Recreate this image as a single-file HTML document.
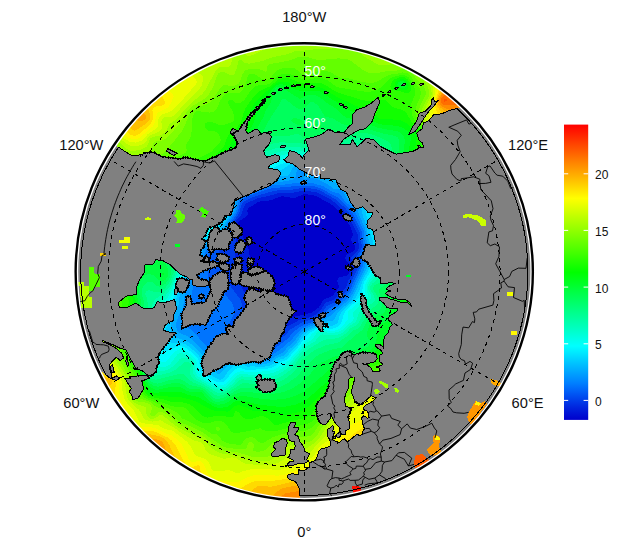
<!DOCTYPE html>
<html><head><meta charset="utf-8"><title>Arctic SST map</title>
<style>
html,body{margin:0;padding:0;background:#fff;}
body{width:625px;height:552px;overflow:hidden;}
svg{display:block;}
text{font-family:"Liberation Sans",Arial,Helvetica,sans-serif;}
.lab{font-size:14.67px;fill:#111;}
.in{font-size:14px;fill:#fff;}
.cb{font-size:12px;fill:#111;}
.g{fill:none;stroke:#000;stroke-width:1;stroke-dasharray:4 4;}
</style></head><body>
<svg width="625" height="552" viewBox="0 0 625 552">
<rect width="625" height="552" fill="#fff"/>
<defs><clipPath id="disc"><circle cx="304.25" cy="271.8" r="226.1"/></clipPath>
<linearGradient id="cbg" x1="0" y1="1" x2="0" y2="0"><stop offset="0%" stop-color="#0000cc"/><stop offset="2.1%" stop-color="#0012d5"/><stop offset="4.2%" stop-color="#0025de"/><stop offset="6.2%" stop-color="#003ae8"/><stop offset="8.3%" stop-color="#0050f1"/><stop offset="10.4%" stop-color="#0068fa"/><stop offset="12.5%" stop-color="#0080ff"/><stop offset="14.6%" stop-color="#0095ff"/><stop offset="16.7%" stop-color="#00aaff"/><stop offset="18.8%" stop-color="#00bfff"/><stop offset="20.8%" stop-color="#00d4ff"/><stop offset="22.9%" stop-color="#00eaff"/><stop offset="25%" stop-color="#00ffff"/><stop offset="27.1%" stop-color="#00ffea"/><stop offset="29.2%" stop-color="#00ffd4"/><stop offset="31.2%" stop-color="#00ffbf"/><stop offset="33.3%" stop-color="#00ffaa"/><stop offset="35.4%" stop-color="#00ff95"/><stop offset="37.5%" stop-color="#00ff80"/><stop offset="39.6%" stop-color="#00ff6a"/><stop offset="41.7%" stop-color="#00ff55"/><stop offset="43.8%" stop-color="#00ff40"/><stop offset="45.8%" stop-color="#00ff2a"/><stop offset="47.9%" stop-color="#00ff15"/><stop offset="50%" stop-color="#00ff00"/><stop offset="52.1%" stop-color="#15ff00"/><stop offset="54.2%" stop-color="#2aff00"/><stop offset="56.2%" stop-color="#40ff00"/><stop offset="58.3%" stop-color="#55ff00"/><stop offset="60.4%" stop-color="#6aff00"/><stop offset="62.5%" stop-color="#80ff00"/><stop offset="64.6%" stop-color="#95ff00"/><stop offset="66.7%" stop-color="#aaff00"/><stop offset="68.8%" stop-color="#bfff00"/><stop offset="70.8%" stop-color="#d4ff00"/><stop offset="72.9%" stop-color="#eaff00"/><stop offset="75%" stop-color="#ffff00"/><stop offset="77.1%" stop-color="#ffea00"/><stop offset="79.2%" stop-color="#ffd400"/><stop offset="81.2%" stop-color="#ffbf00"/><stop offset="83.3%" stop-color="#ffaa00"/><stop offset="85.4%" stop-color="#ff9500"/><stop offset="87.5%" stop-color="#ff8000"/><stop offset="89.6%" stop-color="#ff6a00"/><stop offset="91.7%" stop-color="#ff5500"/><stop offset="93.8%" stop-color="#ff4000"/><stop offset="95.8%" stop-color="#ff2a00"/><stop offset="97.9%" stop-color="#ff1500"/><stop offset="100%" stop-color="#ff0000"/></linearGradient></defs>
<g shape-rendering="crispEdges">
<rect width="625" height="552" fill="#0000cc"/>
<path d="M60 28 550 28 550 516 60 516ZM304 194.2 296 197.5 292 197.9 282 196.2 270 200.4 262 201.1 258 202.1 248.5 208 247.2 210 247.7 214 247 216 238.3 222 237.7 224 238 226.2 240 231.5 246.5 244 248.8 250 250.2 260 250.4 280 252.8 290 254 292.2 261.7 302 269.6 314 272 316.1 276 318 280 318.4 288 317.8 298 316 312 312.5 318.1 308 320 305.8 322 301.6 324 299.3 332.5 296 338.4 288 339.1 286 337.4 282 337.3 280 338 278.5 340 277 346 276 348 274.6 350 270.7 351.1 266 350.2 264 348 262.4 346 260 345.3 258 345.7 256 348 254 352.2 252 354.4 250 355.5 248 355 246 352 242.7 350.9 240 351.3 238 352.7 236 352.9 234 350 226 340 211.7 330 203.4 324 200.6 316.7 196 306 194.2Z" fill="#001ddb" fill-rule="evenodd"/>
<path d="M60 28 550 28 550 516 60 516ZM302 190.8 292 193 280 192.8 270 195.6 258.7 198 249.1 202 246 203.8 244 206.1 241.5 214 240.3 216 236 220.4 234.7 224 235.8 240 234.7 252 237.3 274 238.6 280 241.2 286 249.4 302 256.5 324 260.8 330 266 333.1 272 333.5 278 331.9 286 326.7 292 324.3 298 320.7 302 319.1 312 316.8 316.3 314 320.9 310 324 304.8 326 302.6 334 299.7 335.8 298 338.4 294 345.6 288 348.6 280 352.4 274 356.2 264 356 261.8 354 259.9 352 259.4 350.3 258 356 252.9 359.2 248 359.3 246 357.6 240 357.6 234 351.7 222 344 210.8 332 200.3 318 192.7 306 190.6Z" fill="#0038e7" fill-rule="evenodd"/>
<path d="M60 28 550 28 550 516 60 516ZM302 188 292 189.6 280 190 270 191.9 252 197.4 244 201.3 241.9 204 238.8 214 233.2 222 231.1 234 229 240 226 244.2 219.4 250 218.6 252 218.5 254 219.2 256 224.6 262 224.7 272 228.2 282 231.6 288 239.4 298 241.3 302 242.8 310 243.4 324 245 330 247.4 334 251.2 338 256.5 342 262 344.7 266 345.2 268 344.9 282 337.7 286 334.4 290 329.6 302 322.6 314 318.6 322.7 312 326.7 306 336 301.9 346 291.7 348 289 356 272 359 264 359.1 262 357.3 256 358 254 361.7 248 362.1 246 360.3 240 360 233 358.8 230 356 225.6 353.7 220 348.5 212 345.2 208 336 199.6 322 191.6 318 189.8 314 188.9 306 187.9Z" fill="#0055f3" fill-rule="evenodd"/>
<path d="M60 28 550 28 550 516 60 516ZM296 186 272 188.2 268 189.1 248.4 196 242 199.8 240 202.9 238.2 210 236.7 214 231.4 222 228.3 232 226.4 236 222 240.7 216 244 213.6 246 209.6 252 207.9 256 209.1 266 208.1 276 208.3 278 210.2 280 216 282.6 220 285.9 226.4 296 232 303 234.1 308 234.2 312 233.2 316 225.6 330 225.5 332 226.4 334 231.1 338 246 345.2 258 351.8 262 353.1 266 353.1 270 351.8 286.1 340 288.4 338 293.4 332 300 327 304 324.7 312 322 315.8 320 324 314 329.7 308 336 304.8 340 302 346 295.6 349.9 290 360 268.3 361.4 264 361.5 262 359.7 256 360.1 254 364 248 364.3 246 362.4 240 362 232 356 219.5 350.5 210 338 197.3 331 194 322 188.8 316 186.8 310 185.6Z" fill="#0074fe" fill-rule="evenodd"/>
<path d="M60 28 550 28 550 516 60 516ZM298 182.6 280 185.2 272 184.8 268 185.6 256 191.1 248 193.6 242 197 240 199 238.4 202 235.9 212 230.7 220 224 233.8 220 238 211.5 244 207.8 248 205.3 252 204.3 256 204.1 262 203.3 266 201.6 270 195.8 278 193.9 282 190.6 300 192 302.5 198 304.1 201.3 306 202.5 308 202.7 310 202 312 200 314.4 196 316.4 188 318 184.8 320 183.7 322 184 324 185.8 326 192 330.6 196 334.4 204 344 210 347.9 216 350.2 220 350.8 234 350 242 350.9 250 353.4 258 358.2 260 358.7 268 357.3 270.7 356 280 349.7 291.4 340 298.1 332 302 328.7 306 326.2 314 323.1 319.3 320 340 304.8 347.2 298 351.1 292 363.1 266 363.6 262 361.8 256 362.2 254 366 248.2 366.4 246 363.8 238 363.5 230 354.1 210 352 207.1 345.5 202 340 194.2 338 193.1 332.4 192 324 186.6 312 182.8 304 183.1Z" fill="#0090ff" fill-rule="evenodd"/>
<path d="M60 28 550 28 550 516 60 516ZM300 168 297 170 296.4 172 296.3 176 295.2 178 292 180 280 182 274 180.6 270 181.3 262 184.6 254 189.3 246 191.9 240 196.1 238 198.8 236.6 202 234.2 212 227.7 222 223.4 230 218.1 236 207.7 244 203.9 248 202.5 252 201.3 260 199.9 264 197.8 268 191.5 276 188.3 282 187.1 290 183.6 298 183.5 304 182.8 308 177.7 318 176.5 322 176.2 326 177 330 178.3 332 180 333 188 336.6 192 339.3 200.5 348 212 358.4 216 361.1 220 361.5 232 356.9 240 356 250 357.8 257.4 362 260 362.4 270 360 276 355.8 282 353.1 284 351.5 286.7 348 293.8 342 299.7 334 303.8 330 308 327.5 316 324 330.1 316 348.5 300 352.5 294 364.7 268 365.8 262 364.6 256 368.1 248 368.1 244 365.6 238 365.7 232 365 228 359.5 216 356 205.9 354 203.5 348 200.3 343.3 192 341.5 190 340 189.1 338 188.7 334 188.9 326 183.2 318 179.5 312 178.1 304 178.8 302.9 178 305.2 174 305.1 172 304.2 170 302 168.4Z" fill="#00abff" fill-rule="evenodd"/>
<path d="M60 28 550 28 550 516 60 516ZM296 165 292.4 168 289.3 174 288 175.5 284 176.3 274 176.3 270 177.3 262 180.9 252 187.1 244 190.2 240 193.1 237.6 196 235.4 200 232.5 212 220.3 230 216.6 234 209.1 240 201.7 244 200.5 246 199.8 256 198 261 183.6 282 182.9 284 183 290 179.6 296 179 304 173.3 316 171.4 322 170.7 328 171.5 334 174 337.1 186 340.7 192 344.7 203.2 356 210.2 368 214 371.4 218 373.9 220 373.9 225 368 229.5 364 236 360.9 240 360.4 250 361.5 258 364.8 262 364.6 270 362.8 278 357.5 284 355.7 286.1 354 288.8 350 295.5 344 301 336 306 330.8 322 322.9 326 321.6 332 320.8 334 319.8 336.8 314 338.4 312 349.4 302 352.8 298 362 277.5 367 268 368.2 262 368 256 370.3 248 370.5 244 368.1 238 366.7 226 362.9 216 359.9 204 358 200.2 356 198.4 350 194.6 345 188 342 185.5 334 182.3 322 174.9 312 170.8 304 165.5 300 164.5Z" fill="#00c6ff" fill-rule="evenodd"/>
<path d="M60 28 550 28 550 516 60 516ZM296 161.7 290.3 164 282 169.7 270 173.2 264 175.9 252 183.2 244 187.2 238 191.9 235.1 196 232.5 202 231.4 210 230.5 212 223.8 220 218 228.8 212.7 234 206 239.1 204 239.6 198 238.9 196.5 240 195.7 242 195.7 244 197.3 252 197.2 256 193.8 262 180 282.9 179.2 290 176.9 296 175.7 302 169.5 314 167.5 320 166 330 166.2 334 167.1 338 168 340.1 170 342.3 172 343 182 343.2 186 344.6 190 347.2 197.3 354 200.6 358 202.4 362 204.3 370 209.2 374 218 379.4 220 379.7 222 379.2 224 377.5 228 371.7 231.4 368 234.1 366 238 364.4 242 364.5 248 366.9 252 366.1 258 367 262 366.9 268 366 272 364.8 278 360.3 284 358.4 287.5 356 290.5 352 296.5 346 302 338.1 308 331.6 320 325.4 324 324.7 332 325.8 336 324.3 338.1 322 339.4 316 341.7 312 345.4 308 352.4 302 356.7 296 359.6 290 362.9 280 369.6 268 370.7 264 371.3 254 373 246 373.1 242 370.5 234 368.9 224 366.6 216 364.2 204 361.7 198 360 195.7 352 188.7 347.8 184 342 179.7 326.7 172 306 163.1 300 161.7Z" fill="#00e2ff" fill-rule="evenodd"/>
<path d="M60 28 550 28 550 516 60 516ZM292 159.5 264 171.7 240 186.5 236 190.3 232.4 196 229 204 228 210.4 226 212.4 222 214.2 218 224 216 226.5 212 230.6 206 235.2 204 235.8 198 235.3 196 236 194 237.7 192.7 240 192.1 244 193.3 252 193 256 185.7 270 178.3 282 176.6 290 172.9 300 166 311.9 164.4 316 162.3 326 161.7 334 162.3 344 164 350.4 166 351.1 168 350.6 178 346.4 182 346.4 186 347.9 192 352.4 197.4 358 199.4 362 199.9 370 200.7 372 202.8 374 209.4 378 218 382.3 222 382.5 224 381.7 226 379.9 232.2 372 234.5 370 238 368.1 240 367.7 246 369.7 250 370 268 368.5 274 366.8 280 362.6 286 359.9 288 358.4 298 347.2 302 341.3 308.2 334 310.8 332 320 327 324 326.9 330 329.1 334 328.4 338.6 326 341.7 322 343.2 316 345 312 348 308.4 355.4 302 361.2 294 364.1 282 371.4 270 373.1 266 374 262 374.3 252 376.1 244 376.2 240 373 230 368.2 202 366 196 362.1 190 350.3 178 346 175.1 339.8 172 328 167.4 306 160.2 298 158.9Z" fill="#00fdff" fill-rule="evenodd"/>
<path d="M60 28 550 28 550 516 60 516ZM286 157.7 270 164.4 262 168.4 254 173.3 238 184.4 234.4 188 231.3 192 223.4 206 217.7 212 214 221.3 212 224.2 208 228 206 229.2 196 232.2 194 233.3 191.3 236 190.1 238 188.9 242 188.8 254 186.6 262 182.2 272 177.5 280 175.2 288 172 295.3 162.8 310 160 318 157.8 332 157.1 352 158 357.4 160 360.5 162 362.2 164 362.6 166 361.9 172.4 354 177.1 350 180 349.1 184 350 192 355.5 196 360 197.3 364 197.8 372 200 375.1 214 383.4 220 385.2 224 384.7 226 383.6 234 374.4 238 371.7 242 371.2 248 372.4 252 372.4 268 371 274 369.7 286 362.7 289.3 360 298.1 350 304 341.9 308.8 338 311.8 334 317.1 330 320 328.6 322 328.5 328 330.9 332 331.2 336.6 330 340.5 328 342.7 326 347.4 320 347.9 318 347.5 314 348 312 349.6 310 356 305 363.8 296 364.8 294 364.5 288 365.3 284 368 278.9 374.5 270 377 264 377.7 260 377.5 252 379.6 242 379.4 238 376.8 228 375.4 220 373.1 202 370.8 194 368 188 364 181.8 358 174.8 352 170.4 346 167.6 333.6 164 302 156.7 294 156.2Z" fill="#00ffe5" fill-rule="evenodd"/>
<path d="M60 28 550 28 550 516 60 516ZM288 153.8 278 156.4 264 162.7 254 168.8 238 180.4 234 184 228.8 190 222 200 214 210 207.5 220 202.8 224 192 230.1 188 234.5 186.3 238 185.3 242 184.3 258 180.9 270 175.9 280 172 290.5 168 296.9 159.7 308 156.4 318 154 334 153.5 352 155 360 156.9 364 158.7 366 162 367.3 164 367.4 167.9 366 170.3 364 178 353.8 180 352.7 182 352.8 190 356.8 193.4 360 195.2 364 195.5 372 196.2 374 198 376.4 202 379.2 214 385.9 220 387.7 224 387.2 226.6 386 229 384 236 376.2 240 374.1 254 374.8 270 373.6 274 372.7 280 369.8 290 362.5 300 350.8 304 344.9 306 343.1 312 340 315.9 334 318 331.8 320 330.6 322 330.6 328 333 332 333.1 338 332 342.3 330 348 324.2 351.6 322 353.4 320 353.8 318 352.6 314 353.1 312 358 307.2 363.7 300 368 296.2 368 294 366.5 290 366.5 286 368.3 282 377.9 270 380.7 264 383.3 240 377.6 198 374 186.2 369.1 176 366 171.1 362 166.6 358 163.8 352 161.5 300 153.7 294 153.3Z" fill="#00ffca" fill-rule="evenodd"/>
<path d="M60 28 550 28 550 516 60 516ZM280 151.6 272 154.1 262 159 250 166.9 236 177.8 227.7 186 204 215 200 218.7 190 226.2 186.4 230 184 233.7 182.3 238 181.4 242 180.6 260 178.8 270 174.3 280 172.2 286 170 289.8 166 295.1 159 302 156.4 306 154.8 310 152.8 318 150.6 334 150.3 350 152.1 362 154 367.7 156 370.3 158 371 162 371.1 168 369.8 173.7 366 180 358.9 182 357.9 186 358 190 359.7 192.3 362 193.1 364 193 372 193.5 374 196.3 378 214 388.4 220 390.1 224 389.6 228 387.6 232.2 384 237.8 378 240 376.8 242 376.4 250 377.4 256 377.6 270 376.7 276 375.3 282 372.2 290 366.2 306 346.4 314.3 342 320 335 322 334.4 328 335.4 336 335.1 340 334 344 331.9 349.6 326 355.6 322 356.8 320 358.3 314 360.4 310 366 302.3 370 299.3 370.9 298 371.1 296 370.5 294 368.3 290 368.3 286 370 282.9 380.4 272 383.7 266 385.3 260 387.5 238 384.1 204 382 192 379.3 182 376 172.5 370 160 366 155.3 363.7 154 360 153.1 328 153.7 294 150.3Z" fill="#00ffaf" fill-rule="evenodd"/>
<path d="M60 28 550 28 550 516 60 516ZM366 142.7 338.6 148 330 149.2 322 149.4 308 148.7 298 147.1 292 146.9 278 147.6 268 150.7 262 153.9 254 159.1 232.9 176 224.7 184 202 209 185.6 224 182.4 228 180.1 232 177.5 240 176.9 248 177.3 266 176.1 272 170 286 164 293.2 154.2 300 151.8 306 148.1 326 147 342 148.1 356 151 372 152 375 154 375.9 156 375.8 170 372.7 175.4 370 184 362.5 186 361.8 188 361.9 190.5 364 190.7 366 189.8 372 190.2 374 191 376 194 379.5 206 385.8 216 392.2 218 392.7 222 392.5 226 391.1 230 388.8 239.8 380 242 379.3 254 380.7 266 380.6 274 379.6 280 377.3 286 373.5 292 368.6 299.4 358 310 348 324 339.7 336 338.4 340 337.1 346 333.4 350.8 328 356 325.5 357.8 324 359.2 322 362.6 314 364.9 310 368 306.2 373.7 302 374.9 300 374.1 296 370.3 290 370 287 372 283.8 382 275.7 384.9 272 387 268 389.8 258 391.6 246 392.1 238 390.6 214 388.7 196 385.5 180 379.9 160 375.4 150 370.5 144 368 142.9Z" fill="#00ff93" fill-rule="evenodd"/>
<path d="M60 28 550 28 550 516 60 516ZM358 137.8 346 139.8 331.7 144 326 145 310 144.9 298 142.8 280 142.4 274 143 268 145 262 148.3 254 153.8 234 170.3 182 220.5 176.7 228 174.9 232 173.1 238 172.4 248 174.7 268 173.9 272 170 281.7 166 287.2 162 290.9 160 292 156 292.4 150 290.5 148 290.3 145.7 292 145.3 294 147.4 300 147.8 306 144.4 330 144.1 344 144.8 352 147.5 366 148.4 374 150 377.6 152 379 156 379.8 178 374.2 182 373.8 184 374.5 192.1 382 204 386.8 214 394.4 218 395.8 222 395.2 226 393.6 242 383.4 244 383.1 262 384.6 274 383.7 282 380.8 292 373.7 297.3 368 300.3 362 301.8 360 314 350.5 326 345.1 338 342.7 348 335.5 352 331 358 328.6 360 327.1 368 312.1 370 309.9 376 305.7 378 303.3 378.7 300 378.2 298 376 293.7 373.2 290 372.6 288 374 285.8 382 281.1 385.9 278 388 275.1 390.6 270 393.4 262 395.6 252 396.9 242 397.2 232 396.2 212 394.3 194 390 171 385.4 152 381.8 146 377.2 142 374 139.9 368 137.8Z" fill="#00ff78" fill-rule="evenodd"/>
<path d="M60 28 550 28 550 516 60 516ZM298 133.5 290 135.6 274 135.6 270 136.8 262 141.7 244 156.4 186 208.7 178 216.9 172.9 224 169.2 232 167.2 242 167.7 252 171.7 268 171.4 272 169.6 278 166 283.2 162 286.1 160 286.8 157 286 152 281.9 150 281.6 148 282.1 144 285 141.7 290 141.7 294 144 302 144.3 306 141.2 330 140.9 338 141.3 346 147 376 149.5 380 152 381.9 154 382.9 158 383.6 170 380 176 379.2 180 379.3 184 380.8 190 385 200 387.2 204 388.8 214 398.1 216 399 218 399.1 224 397.4 236 390.5 240 388.6 244 387.5 266 389 274 388.4 280 387 286.5 384 296 377.3 312.1 360 316.7 356 320.4 354 334 348.7 340 348.3 342 347.6 347.3 342 352 338.6 356.9 334 362.6 330 368 319 371.4 314 374 312 380 310 381.3 308 382.1 306 382.2 302 381.4 298 379.1 292 379 290 380.1 288 388 283.1 390 281.1 395.3 270 398.2 262 400.3 254 401.7 246 402.6 236 402.5 218 400.6 196 392.6 150 390.7 144 388 141.4 381.1 138 372 134.4 364 132.7 354 132.3 342 133.2 336 135.1 328 139.7 324 140.4 308 139.9 304 138Z" fill="#00ff5c" fill-rule="evenodd"/>
<path d="M60 28 550 28 550 516 60 516ZM282 98.7 278.5 106 270.3 118 264 130 259.3 136 225.4 168 180.3 206 174 212.5 168.4 220 165.2 226 162.9 232 161.4 238 160.7 244 160.7 250 161.9 256 168.3 270 168.1 276 166 279.3 164 280.7 162 281.2 160 280.8 154 275.7 150 273.8 148 274 144 276.4 139.8 282 138.6 286 138.5 290 141.1 302 141.3 306 138 330 137.8 338 138.5 346 139.9 354 146 377.8 148 381.3 150 383.5 154 386.1 158 386.7 170 383.6 176 383.1 180 383.4 184 385.1 188 388.1 190 388.8 198 389.1 202 389.9 205 392 212.2 400 216 401.9 218 402 224 400.6 234 394.3 242 392 248 391.9 262 393.6 270 393.9 278 393.3 284 391.9 292 388.5 300 383.4 310.2 374 318 364.8 320 363.2 334 356.7 338 356.1 344.2 356 348 354.2 352 351.1 356 349.3 364 348.4 368 346.7 369.8 344 370 342 369.5 340 366.5 336 366.5 334 370 323.9 373.3 318 375.2 316 382.4 314 384 312.7 385.6 310 386.6 306 384.4 294 384.9 292 390 287.5 392.9 284 401.2 268 405.7 254 407.2 246 408.3 236 408.5 220 407.3 202 405.1 186 399.7 158 399 150 399.2 142 398.2 138 395.5 136 382 133.2 366 128.4 346 125.1 341.9 124 332.6 118 326 117.1 324 115 318.6 106 314 102.5 312 102.1 310 102.6 304.6 108 300 109.3 298 108.8 296 107.6 286 99.5 284 98.7ZM291 120 292 119 294 118.3 298 118.6 302 120.3 304.3 122 305.5 124 304 125.4 300 125.5 295.8 124 292.1 122ZM314.8 124 318 123.5 319.8 124 321.1 126 320.7 128 318 129.9 316 130 314 129.3 312.5 128 312.4 126Z" fill="#00ff41" fill-rule="evenodd"/>
<path d="M60 28 550 28 550 516 60 516ZM276 87.7 274 90.5 271.1 102 270 104 265.9 110 263.9 116 257.5 128 251.6 136 232.5 156 224.1 164 210 175.6 178 199.9 170 207.5 164.6 214 159.7 222 156.3 230 154 238 151.3 252 150 256.4 147.9 260 140 270.5 137.1 276 135.3 282 135 286 135.9 292 138.2 300 138.6 304 134.8 328 134.6 336 135.3 344 137.3 354 144.4 378 146 381.4 150 386.8 154 389.4 158 389.7 168 387.5 178 387 182 387.7 186 390.4 190 392 194 392.3 200 391.8 202 392.6 206.4 398 211 402 214 403.7 218 404.7 224 404 228 401.9 234 397.5 240 396.2 246 396.3 260 398.7 272 399.7 282 399.3 290 397.7 298 394.7 304 391.4 322.3 376 330.3 368 335.7 364 348 359.3 356 355.5 366 352.4 370.4 350 372.6 348 375.1 344 376.3 340 378 329.3 380 324.5 382 323.3 386 322.1 388.5 320 389.6 318 389.7 312 391 306 391.1 300 392 296 396.3 286 404 274 408.6 264 412.4 250 414.3 236 414.6 220 413.4 202 410.3 182 404.4 154 404.1 150 404.8 140 403.6 136 402 133.9 398 131.4 378 127.8 364 122.6 346 117.4 341.3 114 335.2 108 328 103.9 320.8 98 317.6 96 314 94.9 310 94.7 305.5 96 300 98.8 296 96.7 282.9 88 280 87 278 86.9ZM400 83.9 400.5 86 402 86.7 404.1 86 404 84 402 83ZM161.5 274 162 272.8 164 273.2 164 275.6 162 275Z" fill="#00ff26" fill-rule="evenodd"/>
<path d="M60 28 550 28 550 516 60 516ZM276 85.4 273.1 88 266 98 258.3 106 257.1 108 255.3 118 253.1 124 250.9 128 228.7 154 222 160.6 214 167.1 180.3 190 167.8 200 161.9 206 157.2 212 152.4 220 148.7 228 141.5 250 134 267.5 131.6 276 131 282 131.3 286 136.1 302 135.8 306 132 322 131.3 334 132 342 133.6 350 136 358 140.6 370 142.8 378 144.4 382 148 388.3 150 390.9 152 392.3 156 392.8 168 391.7 180 391.6 188 394.9 198 397 214 406.5 218 407.7 226 407.4 228 406.5 234 401.9 236 401 240 400.5 246 401.4 258 404.5 278 406.7 286 406.6 296 404.5 304 401.2 308.9 398 319.2 388 330 380.3 335.2 372 340 367.5 344 365.2 354 360.8 368 355.8 374.4 352 379.9 346 386.5 336 396 325.8 398.6 322 399.7 318 398.3 308 402.3 288 403.1 286 410.6 274 414.9 264 418.7 250 420.7 234 420.7 216 418.7 196 415 176 409 152 409 148 410.7 140 410.6 136 409.9 134 406.3 130 402 127.4 396 125.8 382 124.5 378 123.6 366 117.3 350 110.8 320 91.5 314 90.5 300 90.9 296 89.8 284 84.7 280 84.2ZM402 80.8 398.6 82 397.3 84 397.7 86 400 87.9 402 88.6 405.1 88 406.5 86 406 83.5 404 81.3Z" fill="#00ff0a" fill-rule="evenodd"/>
<path d="M60 28 550 28 550 516 60 516ZM280 81.7 276 83.4 274 85 261.3 96 255.4 102 251.8 108 248 120.6 245.4 126 242 130.4 233 140 228 148 223 154 218 158.6 212 163.2 176 184.9 162 195.2 155.1 202 148.8 210 144 218 140.3 226 130 256.8 126.5 272 126.3 280 127.1 286 129.1 292 132.4 298 133.4 302 128.6 320 127.9 326 127.9 334 129.2 344 132.6 356 139.5 372 143.5 384 147.6 392 150 394.3 154 395.3 164 395.9 172 397 180 397.2 184 397.9 196 401.4 204 406.1 212.1 410 216 411.1 228 411.6 230 410.6 234 406.4 238 405.2 242.3 406 254 411.3 266 411.4 278 414.9 286 414.7 298 412.3 304 410 310 405.7 321 394 332 384.3 339.4 374 343.6 370 352 365.5 372 358.2 380 352.9 385.1 348 398 333.4 402 328.1 404.2 324 406.1 318 407.6 304 409.6 294 411.6 288 419 272 422.5 262 425.4 250 427.1 236 427.3 218 425.6 200 422.3 182 415.1 152 415.1 148 417.2 136 416.8 132 415 130 406 123 402 120.7 390 119.2 380 118.9 370 111.5 352 104.1 338 97.4 322 87.9 316 86.7 302 86.9 298 85.9 286 81.6ZM398 79.9 395.4 82 394.6 84 394.8 86 396.5 88 404 90.4 406 90.2 408 88.5 408.6 86 408.3 84 406 80.5 404 79.3 402 78.9Z" fill="#11ff00" fill-rule="evenodd"/>
<path d="M60 28 550 28 550 516 60 516ZM284 77.8 278 79.6 270 86.3 260 91 254 96 245.6 108 243.9 112 241.6 120 239.7 124 236.3 128 228 135.8 226.7 138 224 146 216.7 154 208 160.1 176 176.6 166 182.4 155.3 190 146.8 198 139.2 208 132.9 220 127.7 234 123.4 250 120.7 266 120.7 278 122.8 288 125.3 294 128.8 300 129.2 302 125.7 314 124.5 320 124 328 124.8 338 126.5 346 129.1 354 132.4 362 138 372.7 140.8 382 145 392 148 395.4 152 397.1 164 399.6 172 402.2 182 402.3 188.8 404 194.9 408 202.8 416 206 417.4 208 417.6 216 415.8 220 415.6 232 417.4 233.6 416 234.8 412 236 411 238.6 412 242 417.2 246 419.2 250 419.4 260 416.3 264 416.4 267.3 418 273.3 424 276 425.3 288 421.8 304 418.3 309.1 416 312 413.2 322.1 400 335.5 386 342.6 376 346 372.6 352 369.1 370 363.3 380.7 358 390.7 350 404 335.8 409.1 328 411.8 322 418.8 294 427.5 270 430.9 258 432.8 248 434.1 236 434.3 226 433.7 214 432.3 202 430.2 190 421.5 154 420.9 148 421.4 136 421 132 420 129.7 411.5 122 406 112.3 402 109.7 396 108.2 392 106.4 385.7 100 384 99.5 378 101.1 374 101.5 362 100.1 338 92.5 334 90.6 326 85.2 322 83.5 316 82.8 304 83.5 300 82.6 290 78.6ZM398 77.8 394 79.7 391.7 82 390.4 86 390.7 88 392.8 90 400 91.2 406 93.4 408 93.2 409.7 92 410.8 90 410.9 86 409.4 82 408 79.8 406 78.1 404 77.3 402 77Z" fill="#2dff00" fill-rule="evenodd"/>
<path d="M60 28 550 28 550 516 60 516ZM286 73.5 280 74.7 276 77.3 270 83.7 266 84.8 258 85.5 254 87.1 250 91.7 244.3 100 240 103 238 103.4 236 103.1 232 99.9 230 99.6 229.3 100 228.2 102 228.5 104 232.9 112 234.5 118 234 120.4 232 122.3 224 124.8 220 125.4 212 122 208 121.9 206 122.8 205 124 204.7 126 206 128.7 208 130.4 210 131.1 216 131.6 218 132.9 220.4 138 220.7 140 220 142.6 211.1 152 191 162 174 168.9 162 175.1 148 184 138.8 192 131 202 127.5 208 123.8 216 118.5 232 114.8 250 113.6 264 114.2 276 116.3 286 121.8 302 121.9 306 120.4 316 119.8 324 120.2 332 121.2 338 123.2 346 126.1 354 130.7 364 136.5 374 138.8 382 143.6 394 145.6 396 149.4 398 172 406.1 176 406.9 182 406.8 186 408 192.2 416 196.9 420 200.4 422 204 423.1 208 423.4 216 420.8 220 420.7 222 421.3 225.7 424 231.6 432 234 433.1 238 432.9 250 430.7 260 428.2 263.2 430 266 430.8 272 431.4 276 431.1 290 427.3 304 424.9 310 422.7 314 419.8 323 406 338 388.9 345.5 378 348 375.2 350 373.7 354 371.9 370 367.5 380 363.4 389.1 358 398.9 350 406 342.9 411.6 336 415.4 330 419.2 322 435.7 270 438.6 258 440.3 248 441.3 236 441.3 224 440.4 212 438.6 200 435.1 184 426.9 154 423.5 132 421.2 128 415.4 122 412.5 116 411.1 108 411 104 414.5 96 415.3 92 414.5 88 409.2 78 406.7 76 404 75 400 75.3 394 76.7 391 78 388.2 80 382 86.6 378 89.4 372 91.4 366 91.9 338 87.4 335.3 86 328 80.4 322 78.3 316 78.2 308 79.7 304 79.9 290 73.9Z" fill="#48ff00" fill-rule="evenodd"/>
<path d="M60 28 550 28 550 516 60 516ZM286 67.9 280 68.9 277.3 70 276 70.9 270 78.5 268 79.7 266 80 262 78.9 254 73.9 252 73.6 250 73.9 247.9 76 245.7 84 242 90.7 240 92.6 238 93.3 230 92.8 226 93.9 224 95.3 220.6 100 217 108 214 111.7 210 112.6 198 111.2 196 111.6 194 113.2 192.5 118 191.8 130 190.8 136 189.2 140 186.4 144 186 146 186.7 150 186.3 152 183.4 154 178 156.3 142 175.6 134 181.2 128 186.9 123.9 192 120.1 198 114.6 210 109.7 226 106.8 242 105.8 256 106.4 270 108.5 282 114.6 304 115.1 324 116.8 336 119 344 123 354 129 366 134.8 376 139.1 388 140.5 394 141.9 396 145.1 398 176.4 412 178.9 414 182 418.4 188 420.8 197.8 426 204 428.6 212 433.9 216 434.2 218 435.1 221.7 440 224.2 442 228 443.3 238 444.8 240 444.9 241.6 444 244.3 440 246 438.5 250 437 254 437.8 260 442.9 262 443.1 264 442.6 272 437.6 278 435.4 290 432.3 306 430.5 310 428.9 314 425.7 317.3 422 325.1 410 342.1 390 350 377.9 354 375.5 372 371.2 384 366.6 395.3 360 406 351.5 412 345.6 418.2 338 423.2 330 428 320 433.2 306 442.1 278 445.6 264 447.7 252 448.8 240 448.8 226 447.8 214 445.5 200 441.5 184 432.1 154 426.7 134 424.8 130 418.3 122 416.3 118 415.4 114 415.7 108 417 104 420 97.8 420.9 92 419.4 88 414.3 82 410.8 76 408 73.6 406 72.7 402 72.4 398 73.6 392 74.3 388 75.4 376 82.1 370 83.2 362.3 82 348 78.1 340 77.6 336.4 76 332 72.7 328 71.4 322 70.9 318 71.2 308 74.6 304 74.9 301.7 74 296 69.1 294 68.3ZM215.7 428 218 426.1 220 428 219.6 430 218 431.6 216.1 430Z" fill="#63ff00" fill-rule="evenodd"/>
<path d="M60 28 550 28 550 516 60 516ZM298 57.3 288 60.9 270 64 267.3 66 266.5 68 266.8 70 266 71.9 261.7 70 256 68.6 250 68.7 246 70 244 71.7 242.6 74 240 81.5 238 84.2 234 86 224 85.1 222 86.3 220 88.7 213.7 98 210 102.3 206 104.6 196 107.6 192.4 110 189.4 114 184.7 126 182 130.9 172 143.9 164.5 152 161.9 154 148 161.5 128 170 122 174 118 178 112 186.8 106.6 198 102.5 210 99.2 224 97 244 96.9 254 97.6 264 100.4 280 107.4 306 111 330 113 338 116.7 348 122.7 360 131.9 376 136 386.1 137.1 390 136.9 396 137.8 398 150 401.7 156 406.8 168 411.5 172 414.2 179.6 422 188 425.3 202 432 222 445.9 226 447.6 240 449.5 244 449.4 246.9 448 247.8 444 249.8 442 252 442 253.9 444 254.3 446 252.3 450 256 451.7 260 451.6 265.5 450 271.5 444 274 442.2 283.9 438 292 436.5 306 436.7 310 436 312 434.7 314 432.5 328 412.4 345.8 392 354 380.7 358 379.2 376 374.6 386 370.9 398 364.8 408 357.8 416.7 350 423.8 342 429.4 334 434.9 324 440.9 310 446.5 294 451.3 278 454.4 264 456.5 248 456.9 232 455.6 216 452.1 198 446.2 178 431.2 138 427.1 130 420.6 122 419.5 120 418.4 116 418.4 112 419.3 108 425.8 94 425.4 90 423.5 86 417.1 80 412 72.6 410 70.9 406 69 402 68.8 396 70.9 388 70.8 376 73.4 372 73.5 368 72.5 362.8 70 350 60.2 346 58.9 338 58.4 320 60 316 59.6 306 56.8 302 56.6Z" fill="#7fff00" fill-rule="evenodd"/>
<path d="M60 28 550 28 550 516 60 516ZM348 47.7 314 49.4 304 50.7 298 50.6 294 51.6 286 54.7 274 56.8 262 61.1 250 63.6 246 63.4 244 62.5 241.3 60 240 59.4 238.9 60 237.9 62 237.1 68 234 74.7 232 75.6 224 72.1 222 71.8 220 72.2 218 73.8 216.7 76 212.7 88 208 95.4 204 99.1 194 105 190 108.3 186.8 112 180 122.8 170.8 134 166.7 138 162 140.6 154 141.9 152.7 146 150.5 150 148 152.3 144 154.6 138 156.5 132 157.6 120 156.7 118 157 114 159.5 108 166.9 101.5 178 96.2 190 92.2 202 88.8 218 87 236 87.4 254 90.1 272 93 284 99.7 306 104.6 326 107.6 336 113.7 350 129.7 378 133.3 388 133.3 398 134.5 400 138 401.7 146 402.6 149.5 404 151.1 406 151.9 408 151.7 410 150.1 414 151.6 416 154 416 158 412.5 159.6 412 162 412 164 412.7 168.8 416 178 424.2 202 435.7 206 438.3 216 446.5 224 450.9 236 452 252 456.7 266 457 270 455.9 271.3 454 272.5 450 274 447.8 278 445.1 284.9 442 292 440.8 302 442.4 306 442.4 310 441.5 313 440 316.7 436 326 421 330 415.7 357.6 386 364 382.9 388 375.6 400 370.2 414 361.1 426.3 350 435.9 338 444.2 324 452.1 306 458.7 286 462.9 268 465.1 250 465.2 232 463.5 216 461.1 204 457.8 192 448.8 168 433.7 136 429.8 130 422.6 122 420.9 118 420.8 114 421.7 110 424.3 104 429 96 429.5 94 428.8 90 427.4 86 424.9 82 415.1 70 412 67.2 408 65 402 63.7 382 65 378 64.5 366 57.7 358 51.5 354 49.1Z" fill="#9aff00" fill-rule="evenodd"/>
<path d="M60 28 550 28 550 516 60 516ZM312 37.8 300 39.7 282 45.8 263.1 50 250 56.2 248 56.2 244 53 242 52.2 238 52.2 236 53 232.9 56 232 58 231.2 64 230.2 66 228 66.9 222 66.5 220 66.8 218 68 216 70.2 205.3 90 202.2 94 192 102.2 186.1 108 176 119.8 169.4 124 166.6 130 164 133.2 160 135.5 154 136.7 150.8 138 149.4 140 148 144.8 146 147.1 142 149.3 134 150.9 130 150.5 126 148.7 121.7 144 120 142.9 118 142.5 116 142.8 110.1 146 103.7 152 98.7 158 93.4 166 89 174 84.7 184 81.4 194 78.9 204 77.2 214 75.9 230 76.3 246 78.4 262 82.7 280 98.3 326 103 338 109.2 350 122 369.4 126.5 378 128.9 386 130 396 131.4 400 134 402.3 138 404.5 146 407.4 146.5 408 146.4 414 147.1 416 150 418.5 154 418.8 160 415.2 162 415.2 164 416.3 173.2 424 180 428.5 203.4 440 211.2 448 216 451.1 224 454.3 236 454.8 246 459.1 252 460.7 264 461.2 268 461 271.7 460 274.6 458 278.1 452 283.6 448 288 445.6 292 445.4 302 449 304 449 308 447.5 314 443.3 319.3 438 323.5 432 328 423.9 332 418.7 354 396.7 360 391.3 368 387.1 390 380.7 402 375.8 414 369.2 426.3 360 434.6 352 441.5 344 448.5 334 455.2 322 461.5 308 466.5 294 470.3 280 472.9 266 474.4 250 474.2 234 472.6 220 469.2 204 465.6 192 460.9 180 449.2 156 436.1 134 431.2 128 424.7 122 423.5 120 423 116 423.8 112 427.1 104 431.4 96 431.8 94 431.3 90 429.6 84 426 77.1 422 71.2 416 64.2 412 61 408 58.9 402 56.9 390 54.5 384 52.7 362 41.3 354 38.2 346 36.6 338 36.2 326 36.5Z" fill="#b6ff00" fill-rule="evenodd"/>
<path d="M60 28 289.4 28 284.8 30 276 32.5 236 41.1 229.2 44 216 52.6 212 54.1 202 56.4 198 58.4 194.9 62 194 66 194.3 68 196 70.9 202.7 76 203.4 78 203.3 80 201.4 86 198 90.9 182 106.8 174 115.5 172 116.5 164 117.5 162 118.9 161.2 122 162.3 126 162.3 128 161.2 130 158.2 132 150 135.4 147.7 138 146 141.8 144 143.7 138 146 134 146.4 130 145.6 128 144.7 122 140.2 118 138.7 112 138.7 107 140 102.5 142 96.2 146 91.5 150 86 156 77.9 168 73.9 176 70.7 184 66.4 200 64 218 63.8 234 65.7 252 69.1 268 74.7 286 87.6 318 96.9 338 104.1 350 118 368.1 122.8 376 124.7 382 126.8 396 128.4 400 130 402 139.2 410 143.5 418 146 420 152 421.6 156 421.3 160 420.3 162 420.8 166.7 424 174 427.6 180 432 194 440.5 200 441.9 202 443.1 203.9 446 206 451.1 210 454 224 458.8 232 457.4 236 457.8 242 462 246 463.8 260 465.2 272 464.5 276 463.7 279.7 462 288 456.7 290 456 292 455.7 302 456.8 306 455.9 310 452.9 317.2 444 325.6 436 332 424 362.8 396 370.3 392 392 386.2 406 381 420 373.5 433.2 364 441.9 356 449.1 348 455.2 340 461.6 330 467 320 472.3 308 476.5 296 479.8 284 483.1 266 484.2 248 483.3 230 480.1 212 476.7 200 472.3 188 466.8 176 459.2 162 449 146 440.3 134 435 128 427.5 122 425.7 120 425.3 118 425.9 114 433.5 94 432.4 84 429.7 76 426 68.7 422 62.7 418 58.2 412 53.3 406 49.7 388 41.2 363 28 550 28 550 516 60 516Z" fill="#d1ff00" fill-rule="evenodd"/>
<path d="M60 28 62 28 224.2 28 200 41.3 194 45.9 188.7 52 186.5 56 185.3 60 184.9 64 185.5 68 187.7 72 196 79 196.8 82 196.2 84 184 98 172.5 110 169.2 112 162 114.4 160 116 158.2 120 157.9 126 156.9 128 148 133.9 142 140.6 136 142.6 130 141.9 120 135.8 112 133.7 108 133.6 102 134.3 92 137.7 84 142.4 75.3 150 68.7 158 60 171.5ZM390.8 28 550 28 550 516 60 516 60 278.3 75.6 312 89.7 338 99.5 352 116 370.1 120 376 121.7 382 122 389.5 124.8 400 127.6 404 133.3 410 138.3 420 139.9 422 144 423.4 158 425.2 166 429.4 172 430.3 174 431.6 187.4 442 191.7 448 194.5 454 196 455.7 204 458.5 206.5 460 208.4 462 212 469.6 214 471 216 471.5 228 470.1 232 470.9 236 472.9 238 473.3 244 470.9 250 469.5 268 469 274 469.7 280 469.7 284 468.6 294 464.7 304 461.9 308 460.2 312 457.3 315.2 454 319.9 446 326 442.1 330.3 438 332.9 434 334.9 428 336.5 426 346.8 418 354 410.8 366.7 400 372 397.3 392 392.8 404 389.1 416 384 426 378.6 438 370.5 448 362 457.6 352 466.9 340 475.4 326 482.1 312 487.9 296 491.8 280 494.1 264 494.7 248 493.6 232 490.7 216 487.3 204 482.9 192 477.3 180 469.3 166 459.8 152 448.8 138 439.6 128 430 120 428.8 118 431 106 434.9 94 435.2 88 434.8 82 433.6 76 431 68 428 61.7 422 52.9 416 46.6 408 40.1 392.9 30Z" fill="#ecff00" fill-rule="evenodd"/>
<path d="M60 28 190.5 28 183.6 36 179.3 42 176 48.2 173.3 56 167.9 84 168.2 88 169 90 170 91.8 172.8 94 173.7 96 171.5 102 169.2 106 167 108 158 112.4 156.3 116 154.3 124 153.1 126 140 137.6 136 139.1 132 139 128 137.3 120 131.5 114 128.8 106 126.9 96 126.9 86 129 78 132.4 70 137.4 60 145.6ZM410.8 28 550 28 550 516 60 516 60 304.9 62 307.3 77 332 87.1 346 97.7 358 114 372.2 117.1 376 118.8 380 118.5 388 120.6 400 122.5 404 128.1 412 135.4 424 137.9 426 140 426.8 150 427 156 428.5 164 432.7 172 435.5 177.6 440 181.3 444 183.8 448 188.2 458 189.3 460 191.4 462 194 462.3 198 460.9 200 461.2 202 462.2 204.7 466 207.9 474 212 477.7 220 480.5 232 482.3 236 482.3 240 481.3 248 477 254 475.2 262 475 278 475.6 284 474.9 302 468.2 310 464.3 316 459.8 325.1 450 340.3 438 346.7 428 352 424.4 358 422 360.9 420 365.6 412 372 405.4 376 403.7 394 399.6 408 395.4 422 389.6 434 383.3 446 375.3 457.2 366 467.1 356 476.7 344 485.7 330 492.7 316 498.1 302 502.5 286 505.1 270 506.1 254 505.3 238 503.1 224 499.6 210 494.6 196 489 184 480.8 170 472.4 158 462.5 146 451.3 134 436.5 120 434 116.4 433.2 112 433.1 106 433.8 102 436.6 92 437.6 82 437.1 74 435.5 66 432 56.3 427.5 48 422 40.4Z" fill="#fff600" fill-rule="evenodd"/>
<path d="M60 28 168 28 163.3 38 160.4 46 158.2 56 157.1 66 157 76 157.9 84 160.1 92 164.3 100 164.9 102 164.4 104 162 105.7 156 106.4 153.2 108 152.4 110 153.1 114 153.1 118 151.8 122 148.6 126 139.2 134 136 135.7 132 135.4 129.5 134 120 125.9 114 122.1 106 118.6 96 116.5 88 116.4 78 118 70 120.7 60 125.5ZM425.6 28 550 28 550 516 60 516 60 324.7 62 326.6 75.6 344 86.8 356 98.3 366 112 374.6 115.2 378 116.5 382 115 390 115.5 398 116.5 402 119.1 408 122 413.1 127.6 422 131 426 134 428.4 138 430.2 142 430.7 150 430.5 156 431.9 168.6 438 171.1 440 174.7 444 177.1 448 182.8 460 186 464.4 188 466 192 467.3 198 465.1 199.3 466 200 467.6 200.7 472 202.3 476 205 480 208 482.8 212 485.4 218 488 228 490.3 232 490.2 238 489 242 487.4 250 482.8 256 480.8 268 481.5 286 478.9 298 475.1 310 469.7 318.3 464 330 453.4 345 442 354 433.7 365.6 426 374 417.7 378.7 414 386 410.6 410 403.1 424 397.8 438 391 452 382.4 462 374.9 471.9 366 479.5 358 487.6 348 496.9 334 504.2 320 509.8 306 514.5 290 517.3 274 518.4 258 517.8 242 515.8 228 512.4 214 507.5 200 501 186 492.6 172 483.7 160 475.1 150 463 138 442.5 120 439.1 116 437 112 435.5 108 435 104 435.6 100 439.3 88 440.8 80 441.2 72 440.5 64 438.9 56 436 47.4 432 39Z" fill="#ffdb00" fill-rule="evenodd"/>
<path d="M60 28 145.1 28 140.9 44 139.6 58 140.9 72 142.9 80 147.3 94 147.9 98 147.7 108 150.5 116 149.5 120 146 123.9 136 130.2 134 130.7 132 129.5 120 116.6 112 109.5 104 104.6 94 101.3 86 100.3 78 100.6 70 101.9 60 104.8ZM438.2 28 550 28 550 516 60 516 60 341.3 62 342.7 77.4 358 89.5 368 102 376 106 377.5 110 378 112 379.6 112.6 382 109.8 386 109.3 390 109.8 398 111.1 404 113.4 410 116.5 416 120.4 422 125.4 428 130.7 432 136 434.2 140 434.8 150 434.4 154 434.8 160 436.6 164 438.7 165.7 440 168.9 444 177.2 462 180 466.5 184 470.8 192 476.8 200.6 486 208 491.6 218 496 228 497.7 238 496.8 247 494 250.9 492 255 488 258 485.9 260 485.5 270 486.8 274 486.3 298 480.2 310 475.3 320 468.9 334 457.4 356 441.2 384 422.3 394 417.7 418 409.5 432.2 404 446 397.4 458.7 390 470 382 479.6 374 489.7 364 498.3 354 508.1 340 515.9 326 522.7 310 527.5 294 530.6 278 531.9 262 531.4 246 529.3 230 525.3 214 519.4 198 511.2 182 501.8 168 493.7 158 484.1 148 470.4 136 446 117.5 442 113.3 437.1 106 436.6 104 436.8 100 444.3 80 445.9 72 446.4 64 446 56 444.7 48 442.6 40Z" fill="#ffbf00" fill-rule="evenodd"/>
<path d="M60 28 62 28 114 28 106 51.3 102.5 58 99.3 62 94 65.8 88.8 68 60 76.6ZM450.5 28 550 28 550 516 60 516 60 356.4 90.7 380 97 386 99.2 390 104.1 406 108.4 416 114 424.9 120.5 432 128 437.1 134 439.3 142 440 154 438.7 160 440.2 162.5 442 163.7 444 169 460 174 470.1 180 477.7 192 489.6 200 496.2 210 501.8 220 504.9 230 505.8 236 505.4 244 503.8 250 502 262 497 270 496.8 272 496 279.3 490 283.2 488 300 484.9 312 480 320 475 338 461.3 350 453 364 444.2 384 432.6 398 426.2 426 416.6 440 411.3 454 404.8 466.3 398 478.4 390 491 380 501.4 370 511.9 358 521.9 344 529.8 330 536.9 314 541.9 298 545.2 282 546.8 264 546.5 248 544.4 232 539.9 214 532.9 196 523 178 511.2 162 500 150 488.6 140 474.7 130 446 112.3 440 107.1 438.2 104 437.8 102 438.6 98 448.6 80 451.4 72 453.1 64 453.9 56 453.8 48 452.9 40ZM133.7 110 136 108.9 138 109.2 142 111.5 146 115.3 146 118 144 120 142 120.9 140 121.3 136.1 120 133.3 116 132.9 112Z" fill="#ffa400" fill-rule="evenodd"/>
<path d="M463.7 28 550 28 550 195 538.6 176 530 164 519.4 152 508 141.6 496 132.5 484 125.2 468 117.3 444 107.5 442 106.3 439.9 104 439.2 100 440 97.7 442 94.7 450.1 86 454.5 80 457.8 74 460.9 66 462.9 58 464.2 48 464.4 38ZM541.1 342 550 326.4 550 516 60 516 60 371.7 64 374.2 76 383.5 85 392 90 399.2 98.4 416 103.2 424 109.4 432 115.8 438 122 442.2 130 445.6 138 447.2 152 447.3 154 447.8 156 449.6 163.4 468 168 476.5 176.9 488 188 498.7 198.2 506 210 511.4 224 514.8 234 514.9 248 512.1 268 505.7 276 501.6 284 494.1 286 493.1 300 490.8 310 487.1 322 480.1 338 468 348 461.2 360 454.2 374 447 398 436.4 434 424.6 450 418.7 464.9 412 478 404.9 488.7 398 499.5 390 508.8 382 518.8 372 527.4 362 534.8 352Z" fill="#ff8900" fill-rule="evenodd"/>
<path d="M479.1 28 550 28 550 162 536 146.9 526 137.6 513.5 128 500 119.7 486 113 474 108.8 458 105.3 444 104.9 442 103.8 440.9 102 440.7 100 442 97.3 444 95.5 454 90 459.4 86 465 80 469.9 72 474.1 62 476.8 52 478.6 40ZM534.7 378 550 360.6 550 516 268.2 516 290 502 308 495 316 490.9 324 485.6 344 470.4 352 465.5 362 460.5 378 453.7 394 447.8 438 434.9 454 429.6 470 423.2 486 415.4 504 404.3 520 392ZM60 516 60 389.5 64 392.1 74.4 402 80 409 94.7 430 103.7 440 110 445.4 118 450.6 126 454.4 140.7 460 146 463.5 150 468.2 161.6 486 169.8 496 180 505.8 193.5 516Z" fill="#ff6d00" fill-rule="evenodd"/>
<path d="M499.3 28 550 28 550 132.3 528 114.8 496.5 94 494 91.7 491.2 88 490 84 490.3 78 497 48ZM443.3 100 444 99.1 446 98.8 447.3 100 446 101.3 444 101.7ZM532 403.5 550 388.3 550 516 287.6 516 289.6 514 294 511.2 312 501.4 320 496.4 342.8 478 354 471 364 466.8 378 462.2 398 456.7 448 444.6 466 439 482 432.9 500.6 424 517.5 414ZM60 412 62 413.2 66 417.1 86.4 440 96.8 450 108 458.6 129.8 472 137.2 478 158.2 502 172.3 516 60 516Z" fill="#ff5200" fill-rule="evenodd"/>
<path d="M528.7 28 550 28 550 93.9 546 90.5 538.9 82 535.1 76 531.6 68 530 62 528.9 54ZM531.1 426 550 413.6 550 516 306.9 516 308.9 514 326 501.3 346 482.6 350 479.7 356 476.6 364 473.9 376 471.1 448 458.2 464 454.4 478 450.2 496 443.7 514 435.6ZM60 438 62 439.1 88 462.5 124 489.8 146.9 512 150.2 516 60 516Z" fill="#ff3600" fill-rule="evenodd"/>
<path d="M528 449.5 550 438.3 550 516 324 516 336 503.3 348.8 488 352 485.2 356 483.1 360 481.9 368 480.7 412 477.2 436 474.6 456 471.6 472 468.4 492 463.2 510 457.1ZM60 516 60 465.5 62 466.6 104 499.2 119.3 512 123 516Z" fill="#ff1b00" fill-rule="evenodd"/>
<path d="M528 472.2 550 463.5 550 516 339.9 516 355.7 492 358 490.5 362 490.2 394 491.3 418 491.1 444 489.7 466 487.3 488 483.5 508 478.6ZM60 516 60 496.5 64 498.8 81.8 512 86 516Z" fill="#ff0000" fill-rule="evenodd"/>
<path d="M232.3 135.3 233.2 134.3 234.9 138.4 237.8 143.2 235.8 148 232 149.5 227.2 150.9 222.4 152.8 217.6 155.7 212.8 157.6 209 159.5 203.2 161.1 195.5 159.5 187.8 157.6 184 157.3 179.2 158.8 171.5 157.8 163.8 156.9 158.1 155 154.2 152.1 152 152.3 150.8 151.9 147.9 152.8 144.6 153 142.8 154.1 137.7 155.2 136.8 155.9 132.2 155.9 127.4 153 121.6 149.2 116.8 146.3 115.3 142.2 113.8 144.5 112.2 146.9 110.7 149.2 109.2 151.6 107.7 154 106.3 156.4 104.9 158.9 103.5 161.3 102.2 163.8 100.9 166.3 99.6 168.8 98.4 171.3 97.1 173.8 96 176.4 94.8 179 93.7 181.5 92.6 184.1 91.5 186.7 90.5 189.3 89.5 192 88.5 194.6 87.6 197.3 86.7 199.9 85.8 202.6 85 205.3 84.2 208 83.4 210.7 82.7 213.4 82 216.1 81.3 218.9 80.7 221.6 80.1 224.4 79.6 227.1 79 229.9 78.5 232.6 78.1 235.4 77.6 238.2 77.2 241 76.9 243.8 76.5 246.5 76.3 249.3 76 252.1 75.8 254.9 75.6 257.8 75.4 260.6 75.3 263.4 75.2 266.2 75.2 269 75.2 271.8 75.2 274.6 75.2 277.4 75.3 280.2 75.4 283 75.6 285.8 75.8 288.7 76 291.5 76.3 294.3 76.5 297.1 76.9 299.8 77.2 302.6 77.6 305.4 78.1 308.2 78.5 311 79 313.7 79.6 316.5 80.1 319.2 80.7 322 81.3 324.7 82 327.5 82.7 330.2 83.4 332.9 84.2 335.6 85 338.3 85.8 341 86.7 343.7 87.6 346.3 88.5 349 89.5 351.6 90.5 354.3 91.5 356.9 92.6 359.5 93.7 362.1 94.8 364.6 96 367.2 96.9 369.2 102.8 372.2 109.4 377.6 116 380.5 119.8 378.3 116.5 375.9 111.7 378.5 111.4 374.4 109.7 368.8 109 364.9 112.2 361.4 116.3 357.4 120.1 360.4 123.7 357.9 121.5 353.2 117.4 349.2 110.6 345 103.1 341.9 102.6 340.4 106 342 113.5 345 120.7 348.6 125.6 349.5 131.2 360 136 368.9 141.9 370.5 147.2 374.9 151.2 376.2 155.9 371.9 156.8 365.7 159.1 362.5 158.1 357.9 160.4 351.5 165.8 345.4 170.7 338.4 176 333 170.8 332.6 163.1 330.3 165 325.3 169.2 322.3 173.9 320.5 173.3 315.6 176.7 308.4 174.5 299.4 163.5 303 157.1 301.7 154.2 307.8 146.7 309 142.2 307.7 135.9 303 127.7 307.1 119.8 307.6 117.9 303 125.9 296.2 136.7 294.5 136.8 286.4 139.9 279 144.9 271.8 145 264.8 153.7 263.9 155.6 259.6 163 260.7 170.3 264.8 175.1 269.5 180.1 274 186.6 276.9 190.2 279.8 192.6 279.6 192.1 284.6 198.3 286.7 203.2 286.9 209.4 285.1 207.3 280.3 199.9 279.1 196.3 275.6 202.1 271.8 207 270.1 209.4 268.5 214.3 267.9 219.3 265.1 217.1 262.6 212.4 261.3 207.4 262.5 201.2 261 204.5 257.8 200.5 255.4 201 249.9 203.7 246.7 205.9 240.8 202 238.6 205.5 235.9 207.5 229.7 209.5 227.6 215 226.3 221.7 222.2 225 216.3 231 214.6 232.7 209.6 234.3 204.2 234.5 201.6 231 206 234.5 201.3 234.6 199.7 237.5 197.7 235.2 200.6 242.6 197 251.2 193.5 260.8 189.3 268.5 186.4 272.7 183.7 276.5 180.3 279.6 176.4 281 172.6 278.1 170.1 273.3 169.1 268.5 168.2 269.4 165.3 273.3 163.4 277.7 161.8 280 159.1 279 156.1 275.2 154.7 270.4 156.1 266.9 157.2 264.6 154.7 263.7 150.9 265.6 148 268.5 145.1 270.4 141.3 271.4 136.5 268.5 133.6 264.6 132.6 260.8 133.6 258.9 130.7 256 128.8 251.6 131.7 247.7 133.6 245.8 130.7 246.8 125.3 248.3 120.5 251.8 116.1 256 111.3 261 106.3 266 100 265.7 99.8 265.8 99.7 265 99.2 264.9 99.2 264.6 99 264.5 99.2 263.5 99.3 262 99.9 261.5 100.7 262.3 101.1 263.3 101.1 262.7 101.9 259.4 106.1 259.3 106 257.7 106.1 256.3 106.8 255.8 107.6 256.6 108 257.3 108 254.1 110.6 250.2 114.4 247.4 118.2 244.5 122.1 241.6 125.9 238.7 130.7 234.5 132.8 236.7 130.3 232.7 128.3 230.2 132.4ZM173.7 155.5 177.2 153.3 167.4 148.5 166.8 151.5ZM234.5 201.6 235.2 200.6 234.9 200.8 234.5 201.3ZM242.4 230.1 238.4 225.7 234.9 222.3 229.6 223.3 228.8 227.3 232.9 234.7 233 237.8 237.7 237.9 241.5 234.1ZM219.6 249.1 224.3 250.4 228.7 248.7 228.7 244.3 232.1 239.7 232.1 234.2 227.6 229.3 222.7 229.3 219.6 232.3 218.4 228.1 215.4 226.5 210.2 231.9 208 240.5 207.9 246 209.1 251.6 211.1 253.7 214.6 249.4ZM248.3 244.5 252.1 243.5 251.5 238.8 249.6 236.3 245.6 239.3ZM241.1 239.6 235.9 244.2 234.7 250.5 238.3 253.5 242.8 251.8 244.8 247.8 246.2 243.5ZM216.5 259.5 222 262.4 228 261.1 229.1 257.2 224.8 254.2 217.6 253.4ZM210.3 258.6 205.9 255.3 203.2 261.2 207.4 262.5ZM239.7 263.3 242.5 260.9 240.8 257.2 234.7 258.3 234.1 261.9ZM230.6 274.4 231.3 282.1 233.7 284.9 237.9 284.1 239.3 281.8 239.2 283.3 242.5 285.5 249.8 286.9 255 287.8 262.2 289.6 263 289.8 261.6 291.7 255.9 290.4 251.1 288.1 248.2 290 244.8 294.6 244.4 299.7 247 304.8 244.2 309.3 239.6 315.4 234.4 320.7 233.3 327.2 229 325.5 225.9 328.7 227.9 333.6 222.7 333.3 216 336.6 211.6 342.9 207 349.1 203.4 356.4 201.2 363 203.1 369.5 203.4 376.2 207.6 375.4 213.6 370.7 221.1 367.4 227.6 363.2 236.7 364.7 244.6 363.6 252.4 361.5 259.9 362.7 265.3 359.3 269.6 357.5 270.5 355.3 272.9 349.5 275 344.1 279.8 340.8 280.8 336.1 284 332.2 285.1 327.5 286.2 322.9 289 318.8 291.7 315.7 295.9 310.9 291.9 309.8 290.5 305.8 290.3 301.6 287.9 297 283.2 295.2 277.2 294.5 273.1 291.2 268.1 291 266.9 290.5 268.5 290.8 273.1 289.4 274.8 283.1 273.4 278.3 270 274.2 265.2 270.4 264.2 271 262.1 268.1 255.1 266.2 247.7 269.8 248.5 273.6 247.7 272.8 241.5 272.3 240.6 275.1 240.1 272.9 241.6 269.6 241.9 265.2 236.3 263.5 235.3 264.6 232.4 264.2 232.1 267.4 232.7 267.4 231.1 269.2ZM258.2 273.4 263.1 271.6 259.6 273.4 254.9 274.8 250.7 276 249.4 274.6ZM219.2 267.3 223.8 271.1 228.7 270.5 229.4 265.3 224.3 263.4 219.4 263.6ZM177.7 278.4 175.8 285.3 179.1 291.6 184.4 292.9 188.3 286 189.3 280.8 182.7 278.2ZM175.1 287.7 174.6 294.7 177 294.2 177.2 288.5ZM198.8 295.2 199.7 298.8 203.9 297.7 203.1 294.2ZM186.1 296.9 186.3 305.6 181.2 314.2 182.2 321.1 181.8 328.9 189.4 325.3 197 324.1 205.9 325.2 209.4 318.1 212.5 310.8 217.2 307 220 300.8 223.9 291.8 228.2 289.3 228.6 283.8 228 278.5 227.7 273.1 221.4 271.8 214.3 274.9 209.7 280.1 209.4 285.1 211.1 289.9 209.5 293.7 205.2 302.1 199.3 302.9 192 304 190 296.1ZM163.3 351.4 163.3 351.4 163.2 351.5 163.2 351.6 163.3 351.6 163.4 351.6 163.4 351.6 163.4 351.5ZM128.5 365.2 127 356.3 125.7 360.8 127.6 366.9ZM114.3 372.8 112.5 364.5 110.4 366.4 111.4 372.2ZM140.8 393.6 143.7 388.5 142 383.3 142.8 380.7 149.8 377.9 146.2 375.3 141.3 375.6 129.5 376.8 130.8 378.9 124.8 378.3 127.3 382.4 131.2 388.5 129.2 392.1 131.7 394.9 133 399.4 137.8 398.6ZM309.7 84 309.1 83.3 307.5 83.1 306 83.3 305.3 83.9 306 84.6 307.5 84.9 309.1 84.6ZM300.6 85 299.9 84.4 298.4 84.2 296.8 84.5 296.2 85.1 296.8 85.8 298.4 86 300 85.7ZM295.1 86.4 295.7 85.7 295 85.1 293.5 84.9 291.9 85.3 291.3 85.9 292 86.5 293.6 86.7ZM313.9 87.4 314.5 86.8 313.9 86.2 312.4 85.8 310.8 86 310.1 86.6 310.7 87.3 312.3 87.6ZM288.2 88.4 288.7 87.7 288 87.1 286.5 87 284.9 87.4 284.4 88.1 285.1 88.7 286.6 88.8ZM281.9 90.1 282.5 89.4 281.7 88.9 280.2 88.8 278.7 89.3 278.1 90 278.8 90.5 280.4 90.6ZM327.7 93.4 328.4 92.9 327.9 92.2 326.4 91.7 324.8 91.8 324.1 92.3 324.6 93.1 326.1 93.5ZM275.4 93.7 275.9 93 275.2 92.4 273.6 92.4 272.1 93 271.6 93.7 272.3 94.2 273.9 94.2ZM270 97.3 270.5 96.6 269.8 96.1 268.2 96.1 266.7 96.7 266.2 97.4 267 97.9 268.5 97.9ZM271.5 132.8 271.8 131.9 271.1 131.1 269.9 131.1 268.9 131.7 268.7 132.6 269.3 133.3 270.5 133.4ZM284.8 147 285.4 146 284.5 145.3 282.6 145.3 280.9 145.9 280.3 146.9 281.2 147.6 283 147.6ZM302.7 181.3 300.4 182.8 302.7 184.2 306.6 182.8 305.8 181.3ZM254 259.3 248 257.8 247.5 262.8 253.1 263.7ZM251.9 265.4 247.2 264.8 247 266.8 251.7 267.2ZM325.4 313.3 321 313.2 318.5 315.7 321.2 318.3 324.5 317.4ZM319.2 317.9 317.2 317 315.8 317.9 313.6 319.9 315.5 324.8 318.2 327.6 320.6 330.9 322.6 331.8 322.9 327.7 323.5 321.9 321.4 321.7ZM326.8 323.7 324.2 323.7 325.8 326.6 327.6 326.9ZM269.9 391.7 273.6 390.1 276.4 386.8 275.2 382.4 273.4 379.4 269.2 379.6 265.1 379.3 261.4 380.5 261.2 375.6 258.3 374.9 255.8 378.1 259.2 380.6 255.5 381.2 258.5 385.1 256.5 387 260.1 390 263.9 392.4ZM305.2 451.8 303.6 446.6 299.8 441.4 297.9 436.2 294.8 435 298.8 428.5 299.3 428 293.9 427.3 295.8 422.8 291.1 422.4 288.8 426.3 287.9 432.9 288.2 438.1 290.1 440.8 294.8 441.7 295.1 446.4 294.3 450 290.2 449.7 290.6 452.9 289.1 456.4 287.4 457.3 292.7 459.9 294.3 461 290.3 461.3 286.6 465.2 284.9 466.1 292.4 465.7 297.5 463.8 304.2 463.4 308.9 461.2 306.5 459.7 309.7 453.8ZM273.9 447.6 276.2 449.1 271.1 454.1 272.6 457 278.3 456.3 282.4 455.2 285 455 285 449.2 287.4 443.2 286 439.4 282.3 438.4 278.9 441.1 274.1 442.9ZM411.4 83.5 411 84.2 411.8 84.5 413.2 84.3 414.5 83.7 414.8 82.9 414.1 82.6 412.7 82.8ZM420 84.1 419.5 84.8 420.3 85.1 421.7 85 423 84.4 423.4 83.7 422.7 83.3 421.3 83.4ZM402.2 84.6 401.9 85.4 402.6 85.7 404 85.4 405.3 84.7 405.6 84 404.9 83.7 403.5 83.9ZM394.7 89 395.5 89.3 396.9 89 398.1 88.2 398.4 87.5 397.6 87.2 396.3 87.5 395 88.3ZM387.5 92.7 388.2 93 389.6 92.6 390.8 91.8 391.1 91 390.3 90.8 389 91.1 387.8 92ZM382.1 95.2 381.9 96 382.6 96.3 384 95.8 385.2 95 385.4 94.2 384.7 94 383.3 94.4ZM342.7 105.6 343.4 105.2 343 104.4 341.5 103.8 339.9 103.7 339.2 104.2 339.6 105 341.1 105.6ZM346.6 108.2 347.4 107.7 347 107 345.5 106.3 343.9 106.2 343.2 106.7 343.6 107.4 345.1 108.1ZM438.1 100.5 434.6 101.9 433.5 97.7 431 100.6 431 105.4 425.3 111.2 419.3 113.4 416.5 121.2 412.1 127.7 408.9 134.4 411.1 133.5 414.8 131.8 418.8 126.2 423.2 119.6 427.5 112.9 433.1 106.9ZM419.7 147.7 420.5 147.6 420.6 146.7 419.9 145.6 418.7 145 417.9 145.1 417.8 146 418.5 147.1ZM350.4 209.5 354.7 211.7 355.1 210.1 352.1 208.4ZM341.2 210.3 338.7 211 342 213.6ZM342.5 215.1 344.9 219.7 351.6 221 351.7 217.3 346.4 213.7ZM359.9 262 357.5 257.5 354.5 259.3 351.5 263.5 355.9 267.3 359.1 266ZM348.5 265.6 345.3 266.8 346.5 268.8 351.3 270.2 352.6 268.4ZM338.5 292.4 339.3 297.2 342.9 296.9 341.6 291.7ZM337 299.3 336.4 302.9 338 303.3 339.2 301.1ZM366.3 300.7 362.7 294.5 361.3 294.3 360.7 298.1 361.5 304.8 363 311.4 367 316.5 370.4 321.6 372.8 326.3 378.3 325.6 381.4 321 376.5 321.4 371.7 315.6 368.7 311.3 366.2 306.1ZM357.5 353.8 353.9 354.4 351.4 355.2 352.1 351.5 346.5 351.3 343.1 352.5 340.5 355.2 338.7 359.2 335.9 361.2 334.3 364.3 332.8 368.3 331.1 371.9 331 375.4 329.4 380.8 328.8 385.5 327.7 389.2 325.6 393.1 325.1 396.3 321.9 397.7 319 401.1 316.2 405.4 316.2 408.9 316.6 412.9 317.8 417.8 319 421.8 323.1 424.9 326.2 424 329 420 330.8 418.1 330.9 414 332.7 418.3 334.1 421.1 336.9 425.2 340.1 428.1 339.5 430.9 340.7 432.2 341.9 435.1 345.4 434.2 345.9 430.4 348.9 429.6 349.7 426.1 348.9 420.5 348.3 415.9 350.4 412.1 351.5 409.1 349.7 407.6 345.8 406.2 344.9 402.3 344.9 397 346 393 348.5 388.4 348.3 383.7 348.2 379.5 351.3 377.1 353.8 377 355 379.2 353.6 382.6 352.4 387.9 351 392.2 353.4 396.6 354.8 401.4 357.5 403.6 360.8 405 364.7 401.5 368.6 398 371.6 395.8 373.7 397 376.6 397.1 372.9 400.9 370.8 402.5 366.2 404.7 363.1 407.8 364.6 410.5 367.1 411 368.4 413.2 369.1 417.4 367.3 418.2 363.9 415.7 361.7 417.7 362.3 423 364.5 428.7 362.4 431.7 362.2 434.5 359.3 435.5 357 434.1 352 438.3 347.3 441.8 344.3 438.8 341.6 440.4 340.4 441.8 337.6 443.4 337.2 441.4 334.1 440.9 332.2 439.1 332.7 436.4 333.8 434.1 335 431.3 332.9 431.2 333.3 428.5 332.9 424.9 330.4 428 328 428.9 327.1 432.1 327.7 436.7 329.6 439.5 330.9 444 329.7 446.3 325.9 447.9 321.3 448.9 319 451.2 317.2 456.6 315.8 459.9 312.5 461.6 309.6 462.8 309.4 467 304.9 470.3 300.1 470.8 298.4 469.1 298.6 475 291.9 473.6 287.1 475.5 288.3 478.8 294.7 481.3 296.9 483.6 299.7 489.1 299.5 500.1 299.5 500.8 301.4 500.9 304.2 500.9 307.1 500.9 309.9 500.8 312.7 500.7 315.5 500.6 318.3 500.5 321.1 500.3 323.9 500.1 326.7 499.8 329.5 499.5 332.3 499.2 335.1 498.8 337.9 498.4 340.6 498 343.4 497.5 346.2 497 348.9 496.5 351.7 495.9 354.4 495.3 357.2 494.7 359.9 494 362.6 493.3 365.4 492.6 368.1 491.8 370.8 491 373.4 490.2 376.1 489.3 378.8 488.4 381.4 487.5 384.1 486.5 386.7 485.5 389.3 484.5 391.9 483.5 394.5 482.4 397.1 481.2 399.7 480.1 402.2 478.9 404.7 477.7 407.3 476.4 409.8 475.2 412.2 473.8 414.7 472.5 417.2 471.1 419.6 469.7 422 468.3 424.4 466.8 426.8 465.4 429.2 463.8 431.5 462.3 433.9 460.7 436.2 459.1 438.5 457.5 440.7 455.8 443 454.1 445.2 452.4 447.4 450.7 449.6 448.9 451.8 447.1 453.9 445.3 456 443.4 458.1 441.6 460.2 439.7 462.2 437.7 464.2 435.8 466.2 433.8 468.2 431.8 470.2 429.8 472.1 427.7 474 425.7 475.9 423.6 477.7 421.4 479.5 419.3 481.3 417.1 483.1 415 484.9 412.7 486.6 410.5 488.3 408.3 489.9 406 491.6 403.7 493.2 401.4 494.7 399.1 496.3 396.7 497.8 394.4 499.3 392 500.8 389.6 502.2 387.2 503.6 384.7 505 382.3 506.3 379.8 507.6 377.3 508.9 374.8 510.1 372.3 511.4 369.8 512.5 367.2 513.7 364.6 514.8 362.1 515.9 359.5 517 356.9 518 354.3 519 351.6 520 349 520.9 346.3 521.8 343.7 522.7 341 523.5 338.3 524.3 335.6 525.1 332.9 525.8 330.2 526.5 327.5 527.2 324.7 527.8 322 528.4 319.2 528.9 316.5 529.5 313.7 530 311 530.4 308.2 530.9 305.4 531.3 302.6 531.6 299.8 532 297.1 532.2 294.3 532.5 291.5 532.7 288.7 532.9 285.8 533.1 283 533.2 280.2 533.3 277.4 533.3 274.6 533.4 271.8 533.3 269 533.3 266.2 533.2 263.4 533.1 260.6 532.9 257.8 532.7 254.9 532.5 252.1 532.2 249.3 532 246.5 531.6 243.8 531.3 241 530.9 238.2 530.4 235.4 530 232.6 529.5 229.9 528.9 227.1 528.4 224.4 527.8 221.6 527.2 218.9 526.5 216.1 525.8 213.4 525.1 210.7 524.3 208 523.5 205.3 522.7 202.6 521.8 199.9 520.9 197.3 520 194.6 519 192 518 189.3 517 186.7 515.9 184.1 514.8 181.5 513.7 179 512.5 176.4 511.4 173.8 510.1 171.3 508.9 168.8 507.6 166.3 506.3 163.8 505 161.3 503.6 158.9 502.2 156.4 500.8 154 499.3 151.6 497.8 149.2 496.3 146.9 494.7 144.5 493.2 142.2 491.6 139.9 489.9 137.6 488.3 135.3 486.6 133.1 484.9 130.9 483.1 128.6 481.3 126.5 479.5 124.3 477.7 122.2 475.9 120 474 117.9 472.1 115.9 470.2 113.8 468.2 111.8 466.2 109.8 464.2 107.8 463.9 107.5 462.9 107.5 456.2 108.8 449.7 110.3 441.5 113.9 433.9 114.5 428.8 120.7 423.4 123.1 422.1 128.9 416.6 133.1 418.9 139.9 422.3 142.9 423.9 147.9 419.9 147.7 412.6 151.5 404.1 152.8 396.1 154.2 389 150.8 379.8 146.1 374.3 140.1 366.7 138 357.2 146.9 352.4 139.6 350.6 144.3 343.2 144.5 339.4 144.9 343.5 139.4 350 135.1 358.6 130.1 364.9 128.9 371.9 121.9 375.4 112.1 379.6 102.6 378.3 97.4 370.4 103.8 364 107.5 357 109.5 352 115.5 352.2 124.1 348.6 126.7 344.3 132.3 341.6 132.6 336.3 132.8 328 129.6 321.1 134.7 313.7 137 305.4 139.2 306.5 142.7 309.5 151.2 308.5 150.6 304.2 155 302.3 158.4 300.2 155.1 294.8 151.9 289.4 150.5 288 156.1 283.9 159.8 286.9 162.2 292.9 163.9 298.9 168.8 304.2 171.6 309.3 174.6 315.9 176.7 319.8 173.3 320.7 178.4 325.9 178 332.4 179.7 336.7 180.1 336.7 182.7 340.9 189.6 346.5 192.3 348.1 195.9 350.8 202.8 355.5 208.6 357.5 208.4 362.9 206.7 365.1 208.8 368 212.4 372.2 212.7 371.9 216.1 367.5 220.6 366.9 224.6 368.1 228.7 372.4 229.2 374 234.7 375.1 240.3 375 242.5 375.3 245.9 372.6 245.6 367 244.5 364.2 247.6 363.9 252.4 361.8 255.3 360.4 257.5 362.3 259.5 367.1 261.8 369.6 266.1 372.2 270.6 375 275.5 379.7 277.1 381.3 284 388.7 282.9 396 283.1 393.4 284.3 388.2 286.6 386.2 289.2 391.2 291.1 387.1 291.7 385.2 293.5 389.4 296.2 395.2 298.7 401 299.6 406 300 410.6 303.3 411.6 306.7 406.9 302.2 401.7 302.5 395.6 300.6 390.1 298.9 385.6 297.1 380 297.2 379.6 300 383.5 303 386.9 307.4 391.6 308.9 397.9 308.7 396.9 311.1 393.7 313.5 390.1 315.5 387.7 319 391.4 322.1 392.2 324.7 389.5 327.2 388.6 332 387.5 333.4 384.4 336.7 383.4 343.1 383.6 347.1 379.5 344.4 374.9 344.9 376.6 347.3 380.7 350.1 383 353.4 379.5 355.3 379.3 361.3 383 364 381.4 365.4 376 367.1 379.5 368.1 380.2 370.7 378.1 371.6 372.9 371.7 370.9 367.7 366.8 364.6 365.2 364.2 368.4 363.5 374.7 361.9 377.1 358.6 376.7 355.1 373.8 353.2 367.4 352.7 361.6 352.2ZM383.6 347.1 383.7 348.5 383.6 347.1ZM364.4 364.4 362.8 363.7 365.2 364.2ZM364.1 412.9 363.3 411 361.5 413.4ZM355.1 421.2 354.6 418.1 354 423.2ZM340.6 435.9 339.7 431.9 336.5 434.7 336.6 436.7 338.9 437.8ZM332.7 436.4 333.6 438.3 335.6 438 335.6 435.9Z" fill="#808080" fill-rule="evenodd"/>
<path d="M88.8 267.2 93.9 267.2 93.9 273.4 99.7 274 100 287.4 93.9 287.4 93.9 291.1 88.8 291.1Z" fill="#56ff00"/>
<path d="M78 282.1 83.8 282.1 83.8 286 88.8 286 88.8 296.9 91.7 296.9 91.7 307.7 80.9 307.7 80.1 286 78 286Z" fill="#b8ff00"/>
<path d="M100.1 253.1 105.5 253.1 105.5 255.6 100.1 255.6Z" fill="#ffd100"/>
<path d="M124.3 236.7 129.7 236.7 129.7 242.5 118.6 242.5 118.6 239.6 124.3 239.6Z" fill="#f2ff00"/>
<path d="M122.2 245.9 128 245.9 128 248.8 122.2 248.8Z" fill="#e7ff00"/>
<path d="M145.2 218.5 147.9 217.2 150.8 218.5 150.8 220.4 145.2 220.4Z" fill="#cbff00"/>
<path d="M176.4 210 180.4 210.5 181.2 213.2 185.2 214.8 184.4 219.6 181.2 223.6 176.4 222.8 177.2 218.8 174 215.6 175.6 213.7Z" fill="#69ff00"/>
<path d="M202 206.8 208.7 211.6 205.2 218 201.2 216.4 202.8 213.2 198.8 210Z" fill="#42ff00"/>
<path d="M174.8 244.4 179.9 244.4 179.9 247 174.8 247Z" fill="#00ff20"/>
<path d="M374 390 377.2 388.9 379.9 391.3 378 394 374.8 393.5Z" fill="#a4ff00"/>
<path d="M378.8 381.2 381.2 380.9 385.2 383.3 388.4 384.9 387.9 387.8 385.2 387.6 382.8 385.2 379.6 383.3Z" fill="#a4ff00"/>
<path d="M394 388.4 396.4 388.1 399.1 390.8 398 392.9 395.6 391.9Z" fill="#a4ff00"/>
<path d="M415.4 455.8 422.1 453.9 425 456.8 428.8 460.6 426.9 463.5 415.4 468.3 413.8 462.6Z" fill="#ff5c00"/>
<path d="M434.6 434.7 439.4 436.6 440.3 441.4 438.4 446.2 441.3 451 439.4 453.9 433.6 455.8 428.8 453.9 426.9 450.1 430.7 446.2 433.6 442.4 432.6 437.6Z" fill="#ff9600"/>
<path d="M434.6 435.1 439.4 437 439.9 440.5 435.5 439.9Z" fill="#fff800"/>
<path d="M475.8 400.7 480.6 403 484.5 401.1 487.4 404 484.5 407.8 480.6 412.6 477.8 418.4 473 424.2 469.1 423.2 467.2 417.4 469.1 411.7 472 406.9Z" fill="#ff9600"/>
<path d="M475.8 401.1 480.6 403.4 478.7 405.9 475.3 404.6Z" fill="#fff800"/>
<path d="M490.2 379 496 380 500.8 382.9 499.8 386.7 495 385.8 491.2 382.9Z" fill="#ffaa00"/>
<path d="M510.8 331 517 331 517 334.5 510.8 334.5Z" fill="#fff800"/>
<path d="M507 291.5 513.2 291.5 513.2 296 507 296Z" fill="#f2ff00"/>
<path d="M462.5 215.5 468.2 213.5 473.2 214.8 478.2 215.5 485.8 219.8 485.8 225.5 480.8 225.5 478.2 221 473.2 219 468.2 217.2 463.2 218.5Z" fill="#cbff00"/>
<path d="M405.8 274.8 410.8 274.8 410.8 276.8 405.8 276.8Z" fill="#00ff20"/>
<path d="M352.2 486 357.2 485.8 361.5 487.8 361 492.5 353 493Z" fill="#ff0d00"/>
<path d="M232.3 135.3 233.2 134.3 234.9 138.4 237.8 143.2 235.8 148 232 149.5 227.2 150.9 222.4 152.8 217.6 155.7 212.8 157.6 209 159.5 203.2 161.1 195.5 159.5 187.8 157.6 184 157.3 179.2 158.8 171.5 157.8 163.8 156.9 158.1 155 154.2 152.1 152 152.3 150.8 151.9 147.9 152.8 144.6 153 142.8 154.1 137.7 155.2 136.8 155.9 132.2 155.9 127.4 153 121.6 149.2 118.5 147.3 118.3 147.6 116.8 149.9 115.3 152.2 113.9 154.5 112.5 156.8 111.1 159.2 109.7 161.6 108.4 164 107.1 166.4 105.8 168.8 104.5 171.3 103.3 173.7 102.1 176.2 101 178.7 99.8 181.2 98.7 183.7 97.7 186.2 96.6 188.8 95.6 191.3 94.7 193.9 93.7 196.5 92.8 199.1 91.9 201.7 91.1 204.3 90.3 206.9 89.5 209.5 88.7 212.2 88 214.8 87.4 217.5 86.7 220.1 86.1 222.8 85.5 225.5 84.9 228.2 84.4 230.9 83.9 233.6 83.5 236.3 83.1 239 82.7 241.7 82.3 244.4 82 247.2 81.7 249.9 81.5 252.6 81.3 255.4 81.1 258.1 80.9 260.8 80.8 263.6 80.7 266.3 80.7 269.1 80.7 271.8 80.7 274.5 80.7 277.3 80.8 280 80.9 282.8 81.1 285.5 81.3 288.2 81.5 291 81.7 293.7 82 296.4 82.3 299.2 82.7 301.9 83.1 304.6 83.5 307.3 83.9 310 84.4 312.7 84.9 315.4 85.5 318.1 86.1 320.8 86.7 323.5 87.4 326.1 88 328.8 88.7 331.4 89.5 334.1 90.3 336.7 91.1 339.3 91.9 341.9 92.8 344.5 93.7 347.1 94.7 349.7 95.6 352.3 96.6 354.8 97.7 357.4 98.7 359.9 99.8 362.4 101 364.9 102.1 367.4 103.3 369.9 104.5 372.3 105.6 374.5 109.4 377.6 116 380.5 119.8 378.3 116.5 375.9 111.7 378.5 111.4 374.4 109.7 368.8 109 364.9 112.2 361.4 116.3 357.4 120.1 360.4 123.7 357.9 121.5 353.2 117.4 349.2 110.6 345 103.1 341.9 102.6 340.4 106 342 113.5 345 120.7 348.6 125.6 349.5 131.2 360 136 368.9 141.9 370.5 147.2 374.9 151.2 376.2 155.9 371.9 156.8 365.7 159.1 362.5 158.1 357.9 160.4 351.5 165.8 345.4 170.7 338.4 176 333 170.8 332.6 163.1 330.3 165 325.3 169.2 322.3 173.9 320.5 173.3 315.6 176.7 308.4 174.5 299.4 163.5 303 157.1 301.7 154.2 307.8 146.7 309 142.2 307.7 135.9 303 127.7 307.1 119.8 307.6 117.9 303 125.9 296.2 136.7 294.5 136.8 286.4 139.9 279 144.9 271.8 145 264.8 153.7 263.9 155.6 259.6 163 260.7 170.3 264.8 175.1 269.5 180.1 274 186.6 276.9 190.2 279.8 192.6 279.6 192.1 284.6 198.3 286.7 203.2 286.9 209.4 285.1 207.3 280.3 199.9 279.1 196.3 275.6 202.1 271.8 207 270.1 209.4 268.5 214.3 267.9 219.3 265.1 217.1 262.6 212.4 261.3 207.4 262.5 201.2 261 204.5 257.8 200.5 255.4 201 249.9 203.7 246.7 205.9 240.8 202 238.6 205.5 235.9 207.5 229.7 209.5 227.6 215 226.3 221.7 222.2 225 216.3 231 214.6 232.7 209.6 234.3 204.2 234.5 201.6 231 206 234.5 201.3 234.6 199.7 237.5 197.7 235.2 200.6 242.6 197 251.2 193.5 260.8 189.3 268.5 186.4 272.7 183.7 276.5 180.3 279.6 176.4 281 172.6 278.1 170.1 273.3 169.1 268.5 168.2 269.4 165.3 273.3 163.4 277.7 161.8 280 159.1 279 156.1 275.2 154.7 270.4 156.1 266.9 157.2 264.6 154.7 263.7 150.9 265.6 148 268.5 145.1 270.4 141.3 271.4 136.5 268.5 133.6 264.6 132.6 260.8 133.6 258.9 130.7 256 128.8 251.6 131.7 247.7 133.6 245.8 130.7 246.8 125.3 248.3 120.5 251.8 116.1 256 111.3 261 106.3 266 100 265.7 99.8 265.8 99.7 265 99.2 264.9 99.2 264.6 99 264.5 99.2 263.5 99.3 262 99.9 261.5 100.7 262.3 101.1 263.3 101.1 262.7 101.9 259.4 106.1 259.3 106 257.7 106.1 256.3 106.8 255.8 107.6 256.6 108 257.3 108 254.1 110.6 250.2 114.4 247.4 118.2 244.5 122.1 241.6 125.9 238.7 130.7 234.5 132.8 236.7 130.3 232.7 128.3 230.2 132.4ZM173.7 155.5 177.2 153.3 167.4 148.5 166.8 151.5ZM234.5 201.6 235.2 200.6 234.9 200.8 234.5 201.3ZM242.4 230.1 238.4 225.7 234.9 222.3 229.6 223.3 228.8 227.3 232.9 234.7 233 237.8 237.7 237.9 241.5 234.1ZM219.6 249.1 224.3 250.4 228.7 248.7 228.7 244.3 232.1 239.7 232.1 234.2 227.6 229.3 222.7 229.3 219.6 232.3 218.4 228.1 215.4 226.5 210.2 231.9 208 240.5 207.9 246 209.1 251.6 211.1 253.7 214.6 249.4ZM248.3 244.5 252.1 243.5 251.5 238.8 249.6 236.3 245.6 239.3ZM241.1 239.6 235.9 244.2 234.7 250.5 238.3 253.5 242.8 251.8 244.8 247.8 246.2 243.5ZM216.5 259.5 222 262.4 228 261.1 229.1 257.2 224.8 254.2 217.6 253.4ZM210.3 258.6 205.9 255.3 203.2 261.2 207.4 262.5ZM239.7 263.3 242.5 260.9 240.8 257.2 234.7 258.3 234.1 261.9ZM230.6 274.4 231.3 282.1 233.7 284.9 237.9 284.1 239.3 281.8 239.2 283.3 242.5 285.5 249.8 286.9 255 287.8 262.2 289.6 263 289.8 261.6 291.7 255.9 290.4 251.1 288.1 248.2 290 244.8 294.6 244.4 299.7 247 304.8 244.2 309.3 239.6 315.4 234.4 320.7 233.3 327.2 229 325.5 225.9 328.7 227.9 333.6 222.7 333.3 216 336.6 211.6 342.9 207 349.1 203.4 356.4 201.2 363 203.1 369.5 203.4 376.2 207.6 375.4 213.6 370.7 221.1 367.4 227.6 363.2 236.7 364.7 244.6 363.6 252.4 361.5 259.9 362.7 265.3 359.3 269.6 357.5 270.5 355.3 272.9 349.5 275 344.1 279.8 340.8 280.8 336.1 284 332.2 285.1 327.5 286.2 322.9 289 318.8 291.7 315.7 295.9 310.9 291.9 309.8 290.5 305.8 290.3 301.6 287.9 297 283.2 295.2 277.2 294.5 273.1 291.2 268.1 291 266.9 290.5 268.5 290.8 273.1 289.4 274.8 283.1 273.4 278.3 270 274.2 265.2 270.4 264.2 271 262.1 268.1 255.1 266.2 247.7 269.8 248.5 273.6 247.7 272.8 241.5 272.3 240.6 275.1 240.1 272.9 241.6 269.6 241.9 265.2 236.3 263.5 235.3 264.6 232.4 264.2 232.1 267.4 232.7 267.4 231.1 269.2ZM258.2 273.4 263.1 271.6 259.6 273.4 254.9 274.8 250.7 276 249.4 274.6ZM219.2 267.3 223.8 271.1 228.7 270.5 229.4 265.3 224.3 263.4 219.4 263.6ZM177.7 278.4 175.8 285.3 179.1 291.6 184.4 292.9 188.3 286 189.3 280.8 182.7 278.2ZM175.1 287.7 174.6 294.7 177 294.2 177.2 288.5ZM198.8 295.2 199.7 298.8 203.9 297.7 203.1 294.2ZM186.1 296.9 186.3 305.6 181.2 314.2 182.2 321.1 181.8 328.9 189.4 325.3 197 324.1 205.9 325.2 209.4 318.1 212.5 310.8 217.2 307 220 300.8 223.9 291.8 228.2 289.3 228.6 283.8 228 278.5 227.7 273.1 221.4 271.8 214.3 274.9 209.7 280.1 209.4 285.1 211.1 289.9 209.5 293.7 205.2 302.1 199.3 302.9 192 304 190 296.1ZM163.3 351.4 163.3 351.4 163.2 351.5 163.2 351.6 163.3 351.6 163.4 351.6 163.4 351.6 163.4 351.5ZM128.5 365.2 127 356.3 125.7 360.8 127.6 366.9ZM114.3 372.8 112.5 364.5 110.4 366.4 111.4 372.2ZM140.8 393.6 143.7 388.5 142 383.3 142.8 380.7 149.8 377.9 146.2 375.3 141.3 375.6 129.5 376.8 130.8 378.9 124.8 378.3 127.3 382.4 131.2 388.5 129.2 392.1 131.7 394.9 133 399.4 137.8 398.6ZM309.7 84 309.1 83.3 307.5 83.1 306 83.3 305.3 83.9 306 84.6 307.5 84.9 309.1 84.6ZM300.6 85 299.9 84.4 298.4 84.2 296.8 84.5 296.2 85.1 296.8 85.8 298.4 86 300 85.7ZM295.1 86.4 295.7 85.7 295 85.1 293.5 84.9 291.9 85.3 291.3 85.9 292 86.5 293.6 86.7ZM313.9 87.4 314.5 86.8 313.9 86.2 312.4 85.8 310.8 86 310.1 86.6 310.7 87.3 312.3 87.6ZM288.2 88.4 288.7 87.7 288 87.1 286.5 87 284.9 87.4 284.4 88.1 285.1 88.7 286.6 88.8ZM281.9 90.1 282.5 89.4 281.7 88.9 280.2 88.8 278.7 89.3 278.1 90 278.8 90.5 280.4 90.6ZM327.7 93.4 328.4 92.9 327.9 92.2 326.4 91.7 324.8 91.8 324.1 92.3 324.6 93.1 326.1 93.5ZM275.4 93.7 275.9 93 275.2 92.4 273.6 92.4 272.1 93 271.6 93.7 272.3 94.2 273.9 94.2ZM270 97.3 270.5 96.6 269.8 96.1 268.2 96.1 266.7 96.7 266.2 97.4 267 97.9 268.5 97.9ZM271.5 132.8 271.8 131.9 271.1 131.1 269.9 131.1 268.9 131.7 268.7 132.6 269.3 133.3 270.5 133.4ZM284.8 147 285.4 146 284.5 145.3 282.6 145.3 280.9 145.9 280.3 146.9 281.2 147.6 283 147.6ZM302.7 181.3 300.4 182.8 302.7 184.2 306.6 182.8 305.8 181.3ZM254 259.3 248 257.8 247.5 262.8 253.1 263.7ZM251.9 265.4 247.2 264.8 247 266.8 251.7 267.2ZM325.4 313.3 321 313.2 318.5 315.7 321.2 318.3 324.5 317.4ZM319.2 317.9 317.2 317 315.8 317.9 313.6 319.9 315.5 324.8 318.2 327.6 320.6 330.9 322.6 331.8 322.9 327.7 323.5 321.9 321.4 321.7ZM326.8 323.7 324.2 323.7 325.8 326.6 327.6 326.9ZM269.9 391.7 273.6 390.1 276.4 386.8 275.2 382.4 273.4 379.4 269.2 379.6 265.1 379.3 261.4 380.5 261.2 375.6 258.3 374.9 255.8 378.1 259.2 380.6 255.5 381.2 258.5 385.1 256.5 387 260.1 390 263.9 392.4ZM305.2 451.8 303.6 446.6 299.8 441.4 297.9 436.2 294.8 435 298.8 428.5 299.3 428 293.9 427.3 295.8 422.8 291.1 422.4 288.8 426.3 287.9 432.9 288.2 438.1 290.1 440.8 294.8 441.7 295.1 446.4 294.3 450 290.2 449.7 290.6 452.9 289.1 456.4 287.4 457.3 292.7 459.9 294.3 461 290.3 461.3 286.6 465.2 284.9 466.1 292.4 465.7 297.5 463.8 304.2 463.4 308.9 461.2 306.5 459.7 309.7 453.8ZM273.9 447.6 276.2 449.1 271.1 454.1 272.6 457 278.3 456.3 282.4 455.2 285 455 285 449.2 287.4 443.2 286 439.4 282.3 438.4 278.9 441.1 274.1 442.9ZM411.4 83.5 411 84.2 411.8 84.5 413.2 84.3 414.5 83.7 414.8 82.9 414.1 82.6 412.7 82.8ZM420 84.1 419.5 84.8 420.3 85.1 421.7 85 423 84.4 423.4 83.7 422.7 83.3 421.3 83.4ZM402.2 84.6 401.9 85.4 402.6 85.7 404 85.4 405.3 84.7 405.6 84 404.9 83.7 403.5 83.9ZM394.7 89 395.5 89.3 396.9 89 398.1 88.2 398.4 87.5 397.6 87.2 396.3 87.5 395 88.3ZM387.5 92.7 388.2 93 389.6 92.6 390.8 91.8 391.1 91 390.3 90.8 389 91.1 387.8 92ZM382.1 95.2 381.9 96 382.6 96.3 384 95.8 385.2 95 385.4 94.2 384.7 94 383.3 94.4ZM342.7 105.6 343.4 105.2 343 104.4 341.5 103.8 339.9 103.7 339.2 104.2 339.6 105 341.1 105.6ZM346.6 108.2 347.4 107.7 347 107 345.5 106.3 343.9 106.2 343.2 106.7 343.6 107.4 345.1 108.1ZM438.1 100.5 434.6 101.9 433.5 97.7 431 100.6 431 105.4 425.3 111.2 419.3 113.4 416.5 121.2 412.1 127.7 408.9 134.4 411.1 133.5 414.8 131.8 418.8 126.2 423.2 119.6 427.5 112.9 433.1 106.9ZM419.7 147.7 420.5 147.6 420.6 146.7 419.9 145.6 418.7 145 417.9 145.1 417.8 146 418.5 147.1ZM350.4 209.5 354.7 211.7 355.1 210.1 352.1 208.4ZM341.2 210.3 338.7 211 342 213.6ZM342.5 215.1 344.9 219.7 351.6 221 351.7 217.3 346.4 213.7ZM359.9 262 357.5 257.5 354.5 259.3 351.5 263.5 355.9 267.3 359.1 266ZM348.5 265.6 345.3 266.8 346.5 268.8 351.3 270.2 352.6 268.4ZM338.5 292.4 339.3 297.2 342.9 296.9 341.6 291.7ZM337 299.3 336.4 302.9 338 303.3 339.2 301.1ZM366.3 300.7 362.7 294.5 361.3 294.3 360.7 298.1 361.5 304.8 363 311.4 367 316.5 370.4 321.6 372.8 326.3 378.3 325.6 381.4 321 376.5 321.4 371.7 315.6 368.7 311.3 366.2 306.1ZM357.5 353.8 353.9 354.4 351.4 355.2 352.1 351.5 346.5 351.3 343.1 352.5 340.5 355.2 338.7 359.2 335.9 361.2 334.3 364.3 332.8 368.3 331.1 371.9 331 375.4 329.4 380.8 328.8 385.5 327.7 389.2 325.6 393.1 325.1 396.3 321.9 397.7 319 401.1 316.2 405.4 316.2 408.9 316.6 412.9 317.8 417.8 319 421.8 323.1 424.9 326.2 424 329 420 330.8 418.1 330.9 414 332.7 418.3 334.1 421.1 336.9 425.2 340.1 428.1 339.5 430.9 340.7 432.2 341.9 435.1 345.4 434.2 345.9 430.4 348.9 429.6 349.7 426.1 348.9 420.5 348.3 415.9 350.4 412.1 351.5 409.1 349.7 407.6 345.8 406.2 344.9 402.3 344.9 397 346 393 348.5 388.4 348.3 383.7 348.2 379.5 351.3 377.1 353.8 377 355 379.2 353.6 382.6 352.4 387.9 351 392.2 353.4 396.6 354.8 401.4 357.5 403.6 360.8 405 364.7 401.5 368.6 398 371.6 395.8 373.7 397 376.6 397.1 372.9 400.9 370.8 402.5 366.2 404.7 363.1 407.8 364.6 410.5 367.1 411 368.4 413.2 369.1 417.4 367.3 418.2 363.9 415.7 361.7 417.7 362.3 423 364.5 428.7 362.4 431.7 362.2 434.5 359.3 435.5 357 434.1 352 438.3 347.3 441.8 344.3 438.8 341.6 440.4 340.4 441.8 337.6 443.4 337.2 441.4 334.1 440.9 332.2 439.1 332.7 436.4 333.8 434.1 335 431.3 332.9 431.2 333.3 428.5 332.9 424.9 330.4 428 328 428.9 327.1 432.1 327.7 436.7 329.6 439.5 330.9 444 329.7 446.3 325.9 447.9 321.3 448.9 319 451.2 317.2 456.6 315.8 459.9 312.5 461.6 309.6 462.8 309.4 467 304.9 470.3 300.1 470.8 298.4 469.1 298.6 475 291.9 473.6 287.1 475.5 288.3 478.8 294.7 481.3 296.9 483.6 299.7 489.1 299.6 495.3 301.5 495.4 304.2 495.4 307 495.4 309.7 495.3 312.5 495.2 315.2 495.1 318 495 320.7 494.8 323.4 494.6 326.2 494.3 328.9 494 331.6 493.7 334.3 493.4 337.1 493 339.8 492.6 342.5 492.1 345.2 491.6 347.9 491.1 350.6 490.6 353.2 490 355.9 489.3 358.6 488.7 361.2 488 363.9 487.3 366.5 486.6 369.2 485.8 371.8 485 374.4 484.1 377 483.2 379.6 482.3 382.2 481.4 384.7 480.4 387.3 479.4 389.8 478.4 392.3 477.3 394.9 476.2 397.4 475.1 399.9 473.9 402.3 472.7 404.8 471.5 407.2 470.3 409.7 469 412.1 467.7 414.5 466.4 416.8 465 419.2 463.6 421.5 462.2 423.9 460.7 426.2 459.2 428.5 457.7 430.7 456.2 433 454.6 435.2 453 437.4 451.4 439.6 449.7 441.8 448.1 444 446.4 446.1 444.6 448.2 442.9 450.3 441.1 452.4 439.3 454.4 437.5 456.4 435.6 458.4 433.7 460.4 431.8 462.4 429.9 464.3 428 466.2 426 468.1 424 469.9 422 471.8 419.9 473.6 417.8 475.3 415.8 477.1 413.7 478.8 411.5 480.5 409.4 482.2 407.2 483.8 405 485.5 402.8 487.1 400.6 488.6 398.3 490.2 396 491.7 393.7 493.2 391.4 494.6 389.1 496 386.8 497.4 384.4 498.8 382 500.1 379.6 501.4 377.2 502.7 374.8 504 372.3 505.2 369.9 506.4 367.4 507.5 364.9 508.7 362.4 509.8 359.9 510.8 357.4 511.9 354.8 512.9 352.3 513.8 349.7 514.8 347.1 515.7 344.5 516.6 341.9 517.4 339.3 518.2 336.7 519 334.1 519.8 331.4 520.5 328.8 521.1 326.1 521.8 323.5 522.4 320.8 523 318.1 523.6 315.4 524.1 312.7 524.6 310 525 307.3 525.4 304.6 525.8 301.9 526.2 299.2 526.5 296.4 526.8 293.7 527 291 527.2 288.2 527.4 285.5 527.6 282.8 527.7 280 527.8 277.3 527.8 274.5 527.9 271.8 527.8 269.1 527.8 266.3 527.7 263.6 527.6 260.8 527.4 258.1 527.2 255.4 527 252.6 526.8 249.9 526.5 247.2 526.2 244.4 525.8 241.7 525.4 239 525 236.3 524.6 233.6 524.1 230.9 523.6 228.2 523 225.5 522.4 222.8 521.8 220.1 521.1 217.5 520.5 214.8 519.8 212.2 519 209.5 518.2 206.9 517.4 204.3 516.6 201.7 515.7 199.1 514.8 196.5 513.8 193.9 512.9 191.3 511.9 188.8 510.8 186.2 509.8 183.7 508.7 181.2 507.5 178.7 506.4 176.2 505.2 173.7 504 171.3 502.7 168.8 501.4 166.4 500.1 164 498.8 161.6 497.4 159.2 496 156.8 494.6 154.5 493.2 152.2 491.7 149.9 490.2 147.6 488.6 145.3 487.1 143 485.5 140.8 483.8 138.6 482.2 136.4 480.5 134.2 478.8 132.1 477.1 129.9 475.3 127.8 473.6 125.8 471.8 123.7 469.9 121.6 468.1 119.6 466.2 117.6 464.3 115.6 462.4 113.7 460.4 111.8 458.4 109.9 457.1 108.6 456.2 108.8 449.7 110.3 441.5 113.9 433.9 114.5 428.8 120.7 423.4 123.1 422.1 128.9 416.6 133.1 418.9 139.9 422.3 142.9 423.9 147.9 419.9 147.7 412.6 151.5 404.1 152.8 396.1 154.2 389 150.8 379.8 146.1 374.3 140.1 366.7 138 357.2 146.9 352.4 139.6 350.6 144.3 343.2 144.5 339.4 144.9 343.5 139.4 350 135.1 358.6 130.1 364.9 128.9 371.9 121.9 375.4 112.1 379.6 102.6 378.3 97.4 370.4 103.8 364 107.5 357 109.5 352 115.5 352.2 124.1 348.6 126.7 344.3 132.3 341.6 132.6 336.3 132.8 328 129.6 321.1 134.7 313.7 137 305.4 139.2 306.5 142.7 309.5 151.2 308.5 150.6 304.2 155 302.3 158.4 300.2 155.1 294.8 151.9 289.4 150.5 288 156.1 283.9 159.8 286.9 162.2 292.9 163.9 298.9 168.8 304.2 171.6 309.3 174.6 315.9 176.7 319.8 173.3 320.7 178.4 325.9 178 332.4 179.7 336.7 180.1 336.7 182.7 340.9 189.6 346.5 192.3 348.1 195.9 350.8 202.8 355.5 208.6 357.5 208.4 362.9 206.7 365.1 208.8 368 212.4 372.2 212.7 371.9 216.1 367.5 220.6 366.9 224.6 368.1 228.7 372.4 229.2 374 234.7 375.1 240.3 375 242.5 375.3 245.9 372.6 245.6 367 244.5 364.2 247.6 363.9 252.4 361.8 255.3 360.4 257.5 362.3 259.5 367.1 261.8 369.6 266.1 372.2 270.6 375 275.5 379.7 277.1 381.3 284 388.7 282.9 396 283.1 393.4 284.3 388.2 286.6 386.2 289.2 391.2 291.1 387.1 291.7 385.2 293.5 389.4 296.2 395.2 298.7 401 299.6 406 300 410.6 303.3 411.6 306.7 406.9 302.2 401.7 302.5 395.6 300.6 390.1 298.9 385.6 297.1 380 297.2 379.6 300 383.5 303 386.9 307.4 391.6 308.9 397.9 308.7 396.9 311.1 393.7 313.5 390.1 315.5 387.7 319 391.4 322.1 392.2 324.7 389.5 327.2 388.6 332 387.5 333.4 384.4 336.7 383.4 343.1 383.6 347.1 379.5 344.4 374.9 344.9 376.6 347.3 380.7 350.1 383 353.4 379.5 355.3 379.3 361.3 383 364 381.4 365.4 376 367.1 379.5 368.1 380.2 370.7 378.1 371.6 372.9 371.7 370.9 367.7 366.8 364.6 365.2 364.2 368.4 363.5 374.7 361.9 377.1 358.6 376.7 355.1 373.8 353.2 367.4 352.7 361.6 352.2ZM383.6 347.1 383.7 348.5 383.6 347.1ZM364.4 364.4 362.8 363.7 365.2 364.2ZM364.1 412.9 363.3 411 361.5 413.4ZM355.1 421.2 354.6 418.1 354 423.2ZM340.6 435.9 339.7 431.9 336.5 434.7 336.6 436.7 338.9 437.8ZM332.7 436.4 333.6 438.3 335.6 438 335.6 435.9Z" fill="none" stroke="#000" stroke-width="1" stroke-linejoin="round" fill-rule="evenodd"/>
<path d="M139.8 155.9 144.6 153 149.4 152.7 154.2 152.1 158.1 155 163.8 156.9 171.5 157.8 179.2 158.8 184 157.3 187.8 157.6 195.5 159.5 203.2 161.1 209 159.5 212.8 157.6 217.6 155.7 222.4 152.8 227.2 150.9 232 149.5 235.8 148 237.8 143.2 234.9 138.4M234.9 138.4 233 133.6 238.7 130.7 241.6 125.9 244.5 122.1 247.4 118.2 250.2 114.4 254.1 110.6 258.9 106.7 262.7 101.9 264.6 99 266 100 261 106.3 256 111.3 251.8 116.1 248.3 120.5 246.8 125.3 245.8 130.7M176 333 170.7 338.4 165.8 345.4 160.4 351.5 158.1 357.9 159.1 362.5 156.8 365.7 155.9 371.9 151.2 376.2M231 214.6 225 216.3 221.7 222.2 215 226.3 209.5 227.6 207.5 229.7 205.5 235.9 202 238.6 205.9 240.8 203.7 246.7 201 249.9 200.5 255.4 204.5 257.8 201.2 261 207.4 262.5M207.4 262.5 212.4 261.3 217.1 262.6 219.3 265.1 214.3 267.9 209.4 268.5 207 270.1 202.1 271.8 196.3 275.6 199.9 279.1 207.3 280.3 209.4 285.1M319 421.8 317.8 417.8 316.6 412.9 316.2 408.9 316.2 405.4 319 401.1 321.9 397.7 325.1 396.3 325.6 393.1 327.7 389.2 328.8 385.5 329.4 380.8 331 375.4 331.1 371.9 332.8 368.3 334.3 364.3 335.9 361.2 338.7 359.2 340.5 355.2 343.1 352.5 346.5 351.3 352.1 351.5M357.5 353.8 361.6 352.2 367.4 352.7 373.8 353.2 376.7 355.1M381.3 284 379.7 277.1 375 275.5 372.2 270.6 369.6 266.1 367.1 261.8 362.3 259.5 360.4 257.5 361.8 255.3 363.9 252.4 364.2 247.6 367 244.5M354.8 401.4 357.5 403.6 360.8 405 364.7 401.5M349.7 407.6 351.5 409.1 350.4 412.1 348.3 415.9 348.9 420.5M203.4 376.2 203.1 369.5 201.2 363 203.4 356.4 207 349.1 211.6 342.9 216 336.6 222.7 333.3 227.9 333.6 225.9 328.7 229 325.5 233.3 327.2 234.4 320.7 239.6 315.4 244.2 309.3 247 304.8 244.4 299.7 244.8 294.6 248.2 290 251.1 288.1 255.9 290.4 261.6 291.7 263 289.8M263 289.8 263.5 289.1 266.9 290.5M266.9 290.5 268.1 291 273.1 291.2 277.2 294.5 283.2 295.2 287.9 297 290.3 301.6 290.5 305.8 291.9 309.8 295.9 310.9 291.7 315.7 289 318.8 286.2 322.9 285.1 327.5 284 332.2 280.8 336.1 279.8 340.8 275 344.1 272.9 349.5 270.5 355.3 269.6 357.5 265.3 359.3 259.9 362.7 252.4 361.5 244.6 363.6 236.7 364.7 227.6 363.2 221.1 367.4 213.6 370.7 207.6 375.4 203.4 376.2M255.8 378.1 258.3 374.9 261.2 375.6 261.4 380.5 265.1 379.3 269.2 379.6 273.4 379.4 275.2 382.4 276.4 386.8 273.6 390.1 269.9 391.7 263.9 392.4 260.1 390 256.5 387 258.5 385.1 255.5 381.2 259.2 380.6 255.8 378.1M313.6 319.9 315.8 317.9 317.2 317 319.2 317.9 321.4 321.7 323.5 321.9 322.9 327.7 322.6 331.8 320.6 330.9 318.2 327.6 315.5 324.8 313.6 319.9M318.5 315.7 321 313.2 325.4 313.3 324.5 317.4 321.2 318.3 318.5 315.7M324.2 323.7 326.8 323.7 327.6 326.9 325.8 326.6 324.2 323.7M372.8 326.3 370.4 321.6 367 316.5 363 311.4 361.5 304.8 360.7 298.1 361.3 294.3 362.7 294.5 366.3 300.7 366.2 306.1 368.7 311.3 371.7 315.6 376.5 321.4 381.4 321 378.3 325.6 372.8 326.3M355.9 267.3 351.5 263.5 354.5 259.3 357.5 257.5 359.9 262 359.1 266 355.9 267.3M351.3 270.2 346.5 268.8 345.3 266.8 348.5 265.6 352.6 268.4 351.3 270.2M336.4 302.9 337 299.3 339.2 301.1 338 303.3 336.4 302.9M339.3 297.2 338.5 292.4 341.6 291.7 342.9 296.9 339.3 297.2M351.6 221 344.9 219.7 342.5 215.1 346.4 213.7 351.7 217.3 351.6 221M354.7 211.7 350.4 209.5 352.1 208.4 355.1 210.1 354.7 211.7M342 213.6 338.7 211 341.2 210.3 342 213.6M306.6 182.8 302.7 184.2 300.4 182.8 302.7 181.3 305.8 181.3 306.6 182.8M234.9 222.3 229.6 223.3 228.8 227.3 232.9 234.7 233 237.8 237.7 237.9 241.5 234.1 242.4 230.1 238.4 225.7 234.9 222.3M215.4 226.5 210.2 231.9 208 240.5 207.9 246 209.1 251.6 211.1 253.7 214.6 249.4 219.6 249.1 224.3 250.4 228.7 248.7 228.7 244.3 232.1 239.7 232.1 234.2 227.6 229.3 222.7 229.3 219.6 232.3 218.4 228.1 215.4 226.5M217.6 253.4 216.5 259.5 222 262.4 228 261.1 229.1 257.2 224.8 254.2 217.6 253.4M219.4 263.6 219.2 267.3 223.8 271.1 228.7 270.5 229.4 265.3 224.3 263.4 219.4 263.6M205.9 255.3 203.2 261.2 207.4 262.5M207.4 262.5 210.3 258.6 205.9 255.3M205.9 325.2 197 324.1 189.4 325.3 181.8 328.9 182.2 321.1 181.2 314.2 186.3 305.6 186.1 296.9 190 296.1 192 304 199.3 302.9 205.2 302.1 209.5 293.7 211.1 289.9 209.4 285.1M209.4 285.1 209.7 280.1 214.3 274.9 221.4 271.8 227.7 273.1 228 278.5 228.6 283.8 228.2 289.3 223.9 291.8 220 300.8 217.2 307 212.5 310.8 209.4 318.1 205.9 325.2M236.3 263.5 235.3 264.6M235.3 264.6 232.7 267.4M232.7 267.4 231.1 269.2 230.6 274.4 231.3 282.1 233.7 284.9 237.9 284.1 239.3 281.8M239.3 281.8 241.4 278.4 240.6 275.1M240.6 275.1 240.1 272.9 241.6 269.6 241.9 265.2 236.3 263.5M239.2 283.3 242.5 285.5 249.8 286.9 255 287.8 262.2 289.6 263 289.8M263 289.8 266.9 290.5M266.9 290.5 268.5 290.8 273.1 289.4 274.8 283.1 273.4 278.3 270 274.2 265.2 270.4 264.2 271M264.2 271 263.1 271.6M263.1 271.6 259.6 273.4 254.9 274.8 250.7 276 249.4 274.6M249.4 274.6 248.5 273.6M248.5 273.6 247.7 272.8 241.5 272.3 240.6 275.1M240.6 275.1 239.5 278.6 239.3 281.8M239.3 281.8 239.2 283.3M248.7 274.7 248.5 273.6M248.5 273.6 247.7 269.8 255.1 266.2 262.1 268.1 264.2 271M264.2 271 264.3 271.1 263.1 271.6M263.1 271.6 258.2 273.4 249.4 274.6M249.4 274.6 248.7 274.7M241.1 239.6 235.9 244.2 234.7 250.5 238.3 253.5 242.8 251.8 244.8 247.8 246.2 243.5 241.1 239.6M249.6 236.3 245.6 239.3 248.3 244.5 252.1 243.5 251.5 238.8 249.6 236.3M234.7 258.3 234.1 261.9 239.7 263.3 242.5 260.9 240.8 257.2 234.7 258.3M232.4 264.2 232.1 267.4 232.7 267.4M232.7 267.4 235.9 267.6 236.2 264.6 235.3 264.6M235.3 264.6 232.4 264.2M248 257.8 247.5 262.8 253.1 263.7 254 259.3 248 257.8M247.2 264.8 247 266.8 251.7 267.2 251.9 265.4 247.2 264.8M177.7 278.4 175.8 285.3 179.1 291.6 184.4 292.9 188.3 286 189.3 280.8 182.7 278.2 177.7 278.4M198.8 295.2 199.7 298.8 203.9 297.7 203.1 294.2 198.8 295.2" fill="none" stroke="#000" stroke-width="2.3" stroke-dasharray="1.4 1.1 0.7 1.6 2 0.9 1 1.3" stroke-linejoin="round"/>
<path d="M243.5 196.8 214.5 160.9 209.7 163 203.5 161.8 203.3 165.4 200.9 168.4 197.1 166.5 189.6 164.9 183.5 163.9 178.2 166.1 174.1 161.4M103.9 253.7 106 253.9 102.1 255.5 101.2 261.2 98.3 266.4 97.7 273.6 99.4 277.5 96 284.5 92.7 291.1 90.6 292.4 87.2 296.5 84.9 300.7 77.9 302M89.3 330.6 92.9 342.5 94.1 342.5 95.9 344.4 100.6 344.7 103.6 344.8 108.4 346.2 109.1 349.5 108.4 351.7 101.5 354.5 100 356.8 99.5 358.3M312.7 461.6 314.9 463.1 318.5 465.5 320.6 466.1 324.3 469 326.4 469 332.9 470.9 331.8 478.6M331.8 478.6 329.8 480 327.1 485.8 327.6 486.8 330 487.6 330.8 488.1 329.8 492.6 331.9 496.8M331.8 478.6 335.4 477.6 339.1 478.1 339.1 480.3 342.6 480.8 343.3 482.3 341.7 484.3 339 484.2 338.3 487 336.1 485.2 334.5 487.1 330.8 488.1M315.4 460.1 318.4 459.7 320.6 459.2 323.8 460.8 323.3 462.4 324.3 462.6M326.6 448.8 326.7 452 326.7 454.6 325.9 456.3 323.7 457.1 324.6 459.1 324.2 461.3 324.3 462.6M324.3 462.6 325.6 464.8 325 466 326.2 467.5 326.4 469M324.3 469 323.8 466.1 325 466M329.7 440 333.6 439.9M347.3 441.8 348.6 444.6 348.4 447.4 351.1 450.5 351.9 453.5 353.6 455.8 353.1 456.8M353.1 456.8 351.3 456.4 349.1 458.6 346.3 461.4 345 461.7 347 464.5 349.1 466.2 352.5 468.2 352.7 469.2M352.7 469.2 351.6 470.6 349.9 472.7 351.1 474.6 348.3 475.8 344.3 477.7 341.5 478.8 339.1 478.1M352.7 469.2 355.8 468.4 356.3 466.1 360 466.2 363.3 466.3M363.3 466.3 364.8 468.7 365.5 470.7 363.7 472.4 364.4 475 363.2 476.2M363.2 476.2 361.7 477.5 358.5 480 355.1 480.3M355.1 480.3 350.1 480.4 348.7 479 345.5 480 343 481M355.1 480.3 355.4 483.1 356.6 485M356.1 486 359.4 484.9 362.3 484.1 362.8 480 364.5 477.8 365.6 477.5M363.2 476.2 365.6 477.5 368.9 479.3 374.5 478.1 374.8 478M374.8 478 379.4 474.9 382 471.3 382.4 465.3 384.6 462M364.6 485.2 368.6 483.7 377 483M374.8 478 376.8 481.3 377 483M379.4 474.9 385.2 478.3 386 480.3M353.1 456.8 358.2 456.4 360.6 457.1 363.3 456.8 366.9 457.9 368.4 459.6M368.4 459.6 366.4 463.1 364 464.7 363.5 466.3M368.4 459.6 370.4 458.6 373 459.7 377.2 457 381.2 457.1M365.1 469.4 370.8 468.4 373.5 465.2 375.6 462.7 381.3 461.1M381.2 457.1 381.3 461.1 384.6 462M381.2 457.1 380.4 453.9 382.1 449.2 382.5 446.7 379.5 444M379.5 444 377.2 438.7 377.2 436.4 374.2 432.6M374.2 432.6 371.3 431.3 362.1 434.3M371.3 431.3 369.4 428.4 365.4 428.6M363.1 424.8 367.5 421.4 372.6 419.1 378.6 420.3M374.2 432.6 376.7 431.5 379.7 427.8 377.8 425.2 378.6 420.3M378.6 420.3 381.6 416.1 377.4 411.1 376.2 410.9M368.1 412.9 370.2 411.3 374.2 412.1 376.2 410.9M376.2 410.9 375 407.7 372.9 404.3 373.6 401.6M381.6 416.1 389.8 414.7 391.6 418.4 400.4 421.5 397.8 425 401.6 428.8M379.5 444 382.8 440.2 391 438.4 400.1 434.6 401.6 428.8M401.6 428.8 407.2 423.9 410.4 428.1 416.7 429.5 425.1 426.5 431.8 423.2 434.4 428 436.8 430.9 435 437.9M384.6 462 391.9 460.6 396.1 455.3 398.5 452.8 404.4 452.4 411.8 458.2 408.4 466M396.1 455.3 404.3 459.2 408.4 466 414.1 464.4M351.4 377 349.1 374.3 346.5 368 339.2 364.9M339.2 364.9 340.4 363.2 342.8 365.3 344.3 365.2 347.2 363.9 346.4 359 346.7 356.9 348.6 355.1 351.9 356.6 352.3 358.9M339.2 364.9 339.4 368.2 336 368.9 336.4 371.5 334.5 374.5 334.4 381.1 332.8 382 333.9 385.8 333 389.6 334.3 391.3 331 395.6 332.9 404.4 335 406 333.7 407.8 335.3 410.5 333.9 413.9 334.6 416.9 333.8 418.6M352.3 358.9 354.2 355.3 353.3 354.1M352.3 358.9 353.7 362.8 357.3 363.6 357.7 367.9 362.3 372 363.8 376.3 367 377.9 367.1 380.7 372.2 382.2 372.4 384.4 371.2 392.6 370.2 396.9M468.7 412.3 464.2 413.3 456.6 412.8 453 412 450.6 408.3 447.6 406 451.3 402.3 449.2 398.7 449 389.9 453.1 386.4 455.7 383.9 459.5 382.2 463.4 380.4 465 373 470.6 369.4 472.6 363.2 470 361.4 465.5 364.1 464.4 360.6 461.4 359.6 459.3 357 458.7 353.6 461.3 344.4 461.7 334.8 463 327.1 468.7 327.8 472.4 321.6 474.5 322.6 474.8 318.8 473.2 312.4 476.5 311.9 478.7 309.2 492.9 305.1 493.9 300.5 493.5 293.7 501.5 288 500.8 282.8 504.1 281.2M504.1 281.2 504.2 279.5 500.6 272.8 495.7 263.8 498.9 256.5 499.5 246.8 494.9 244 490.3 245.7 487.2 242.8 488.9 231.9 492.5 230.8 493.5 225.7 490.9 220 490.3 216 493 208.7 491.3 200.8 485.2 194.2 480.9 189.8 479.9 183.5M504.2 279.5 509.6 276.5 511.8 271.4 518.3 268.1 526 268.3 527.2 258.2M504.1 281.2 508.1 286.8 514.5 287.6 513.5 297.5 522.4 301.3 524.2 300.4 524.6 308.7M479.9 183.5 485.5 183.4 491 182.3 488.9 175.7 485.7 173.3 487.7 166.7 490 165.9 494.8 173 497.1 175.2 502.8 176.2 507.8 181.2 510.6 188.4 513.6 187.7M479.9 183.5 479.8 179.2 473.6 176.8 465.9 178.1 461.3 178.6 460.9 181 456.9 179.4 452 174 450.9 169.1 450.7 165.4 455.5 159.5 458.7 154.1 460.2 151.7 457.8 145.2 457.2 140.3 461.3 135.3 457.7 131.2 449.9 127.7 448.8 127.3 454.1 125 466.6 119.9 468.9 124.1 472.4 123M135.9 161.7 134 164.6 132.2 167.6 130.4 170.6 128.7 173.7 127 176.7 125.3 179.9 123.8 183 122.2 186.2 120.8 189.3 119.4 192.6 118 195.8 116.7 199.1 115.5 202.3 114.3 205.6 113.2 209 112.1 212.3 111.1 215.7 110.1 219.1 109.2 222.5 108.4 225.9 107.6 229.3 106.9 232.7 106.3 236.2 105.7 239.6 105.2 243.1 104.7 246.6 104.3 250.1 103.9 253.6 103.9 253.7" fill="none" stroke="#000" stroke-width="0.9" stroke-linejoin="round"/>
<g class="g">
<circle cx="304.25" cy="271.8" r="195.8"/><circle cx="304.25" cy="271.8" r="144.2"/><circle cx="304.25" cy="271.8" r="94.9"/><circle cx="304.25" cy="271.8" r="47.1"/><line x1="304.25" y1="271.8" x2="304.2" y2="494.6"/><line x1="304.25" y1="271.8" x2="497.2" y2="383.2"/><line x1="304.25" y1="271.8" x2="497.2" y2="160.4"/><line x1="304.25" y1="271.8" x2="304.2" y2="49"/><line x1="304.25" y1="271.8" x2="111.3" y2="160.4"/><line x1="304.25" y1="271.8" x2="111.3" y2="383.2"/></g>
</g>
<path d="M0 0H625V552H0Z M78.2 271.8a226.1 226.1 0 1 0 452.2 0a226.1 226.1 0 1 0 -452.2 0Z" fill="#fff" fill-rule="evenodd"/>
<circle cx="304.25" cy="271.8" r="228.6" fill="none" stroke="#000" stroke-width="2.4"/>
<text class="in" x="304.6" y="76.2">50°</text><text class="in" x="304.6" y="127.8">60°</text><text class="in" x="304.6" y="177.1">70°</text><text class="in" x="304.6" y="224.9">80°</text>
<text class="lab" x="304.25" y="21.7" text-anchor="middle">180°W</text><text class="lab" x="304.25" y="537" text-anchor="middle">0°</text><text class="lab" x="103.4" y="150" text-anchor="end">120°W</text><text class="lab" x="99.3" y="407.6" text-anchor="end">60°W</text><text class="lab" x="508" y="150">120°E</text><text class="lab" x="511.6" y="407.6">60°E</text>
<rect x="564" y="124.6" width="24.2" height="295.3" fill="url(#cbg)"/>
<path d="M564 400.4 h4.2 M588.2 400.4 h-4.6" stroke="#fff" stroke-width="1"/><text class="cb" x="595" y="405.8">0</text><path d="M564 343.8 h4.2 M588.2 343.8 h-4.6" stroke="#fff" stroke-width="1"/><text class="cb" x="595" y="349.1">5</text><path d="M564 287.1 h4.2 M588.2 287.1 h-4.6" stroke="#fff" stroke-width="1"/><text class="cb" x="595" y="292.5">10</text><path d="M564 230.4 h4.2 M588.2 230.4 h-4.6" stroke="#fff" stroke-width="1"/><text class="cb" x="595" y="235.8">15</text><path d="M564 173.8 h4.2 M588.2 173.8 h-4.6" stroke="#fff" stroke-width="1"/><text class="cb" x="595" y="179.2">20</text>
</svg>
</body></html>
